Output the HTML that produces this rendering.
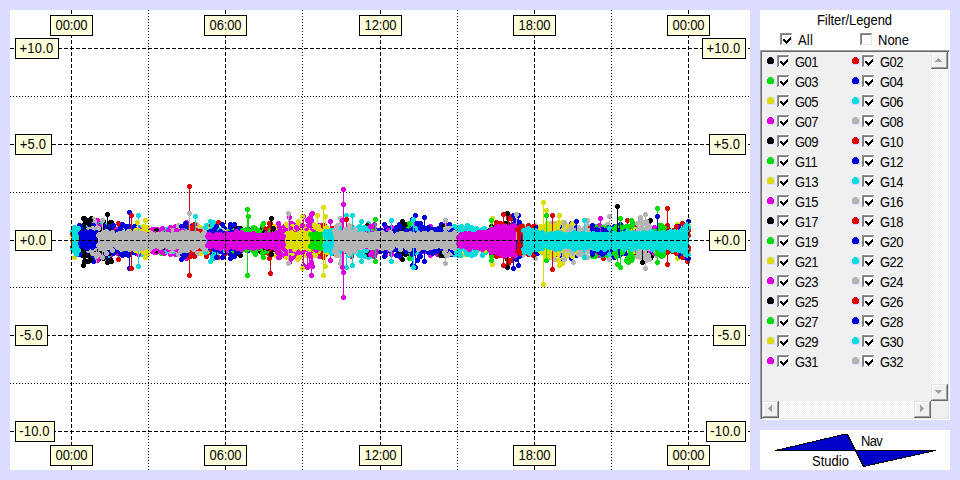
<!DOCTYPE html>
<html><head><meta charset="utf-8"><title>Residuals</title>
<style>
html,body{margin:0;padding:0;}
body{width:960px;height:480px;overflow:hidden;background:#dcdcff;position:relative;
 font-family:"Liberation Sans", sans-serif;font-size:13px;color:#000;}
#plot{position:absolute;left:10px;top:10px;width:740px;height:460px;background:#fff;}
svg{position:absolute;left:0;top:0;}
.lb{position:absolute;box-sizing:border-box;height:21px;border:1px solid #000;background:#ffffdc;
 text-align:center;line-height:19px;font-size:13px;white-space:nowrap;letter-spacing:-0.15px;}
#panel{position:absolute;left:760px;top:10px;width:190px;height:410px;background:#fff;}
#logo{position:absolute;left:760px;top:430px;width:190px;height:40px;background:#fff;}
.t{position:absolute;white-space:nowrap;font-size:13px;line-height:15px;transform:scaleY(1.07);transform-origin:0 12px;}
.lb span{display:inline-block;transform:scaleY(1.07);transform-origin:0 14px;}
.cb{position:absolute;box-sizing:border-box;width:12px;height:12px;background:#fff;
 border-top:2px solid #8a8a8a;border-left:2px solid #8a8a8a;border-right:1px solid #e3e3e3;border-bottom:1px solid #e3e3e3;}
#list{position:absolute;left:760px;top:50px;width:190px;height:370px;box-sizing:border-box;background:#f0f0f0;
 border-top:1px solid #a0a0a0;border-left:1px solid #a0a0a0;border-right:1px solid #fff;border-bottom:1px solid #fff;box-shadow:inset 1px 1px 0 #696969,inset -1px -1px 0 #e3e3e3;}
.sq{position:absolute;width:8px;height:8px;background:#dcdcff;}
.btn{position:absolute;box-sizing:border-box;width:17px;height:17px;background:#f0f0f0;
 border-top:1px solid #fff;border-left:1px solid #fff;border-right:2px solid #6e6e6e;border-bottom:2px solid #6e6e6e;}
.trk{position:absolute;background:#f0f0f0 conic-gradient(#fff 25%,#f0f0f0 0 50%,#fff 0 75%,#f0f0f0 0) 0 0/2px 2px;}
</style></head>
<body>
<div id="plot"></div>
<svg width="960" height="480" viewBox="0 0 960 480" shape-rendering="crispEdges">
<g transform="translate(0.5,0.5)" fill="none">
<path d="M72 235V241M73 233V247M74 228V257M75 238V240M76 228V251" stroke="#dcdc00"/><path d="M72 235h.01M72 241h.01M73 233h.01M73 247h.01M74 228h.01M74 257h.01M75 238h.01M75 240h.01M76 228h.01M76 251h.01" stroke="#dcdc00" stroke-width="5" stroke-linecap="round"/>
<path d="M72 233V247M73 235V243" stroke="#dc0000"/><path d="M72 233h.01M72 247h.01M73 235h.01M73 243h.01" stroke="#dc0000" stroke-width="5" stroke-linecap="round"/>
<path d="M80 233V248M81 231V247M82 227V255M83 218V265M84 224V256M85 230V250M86 226V253M87 225V253M88 220V261M89 232V248M90 235V244M91 218V260M92 233V246M93 232V247M94 236V244" stroke="#000000"/><path d="M80 233h.01M80 248h.01M81 231h.01M81 247h.01M82 227h.01M82 255h.01M83 218h.01M83 265h.01M84 224h.01M84 256h.01M85 230h.01M85 250h.01M86 226h.01M86 253h.01M87 225h.01M87 253h.01M88 220h.01M88 261h.01M89 232h.01M89 248h.01M90 235h.01M90 244h.01M91 218h.01M91 260h.01M92 233h.01M92 246h.01M93 232h.01M93 247h.01M94 236h.01M94 244h.01" stroke="#000000" stroke-width="5" stroke-linecap="round"/>
<path d="M98 230V252M99 223V258M100 235V246M101 228V255M102 232V249M103 228V248M104 230V249M105 224V255M106 224V257M107 224V256M108 234V248M109 223V255M110 222V259M111 222V261M112 234V246" stroke="#000000"/><path d="M98 230h.01M98 252h.01M99 223h.01M99 258h.01M100 235h.01M100 246h.01M101 228h.01M101 255h.01M102 232h.01M102 249h.01M103 228h.01M103 248h.01M104 230h.01M104 249h.01M105 224h.01M105 255h.01M106 224h.01M106 257h.01M107 224h.01M107 256h.01M108 234h.01M108 248h.01M109 223h.01M109 255h.01M110 222h.01M110 259h.01M111 222h.01M111 261h.01M112 234h.01M112 246h.01" stroke="#000000" stroke-width="5" stroke-linecap="round"/>
<path d="M131 227V252M132 237V245M133 231V252M134 227V252M135 238V240" stroke="#000000"/><path d="M131 227h.01M131 252h.01M132 237h.01M132 245h.01M133 231h.01M133 252h.01M134 227h.01M134 252h.01M135 238h.01M135 240h.01" stroke="#000000" stroke-width="5" stroke-linecap="round"/>
<path d="M84 231V249M85 233V245M86 226V254M87 231V249M88 235V242M89 228V253M90 225V254M91 232V243M92 235V249M93 229V247M94 230V252M95 229V252M96 223V256M97 234V245M98 235V246M99 229V251M100 230V250M101 221V256M102 236V247M103 222V255M104 224V257M105 224V256M106 228V250M107 229V252M108 226V255M109 234V247M110 232V249M111 234V246M112 234V243M113 231V247M114 231V248M115 236V240M116 233V245M117 235V244M118 233V247M119 227V254M120 235V244M121 225V252M122 231V248M123 234V244M124 234V247M125 233V245M126 232V251M127 234V245M128 233V246" stroke="#00dcdc"/><path d="M84 231h.01M84 249h.01M85 233h.01M85 245h.01M86 226h.01M86 254h.01M87 231h.01M87 249h.01M88 235h.01M88 242h.01M89 228h.01M89 253h.01M90 225h.01M90 254h.01M91 232h.01M91 243h.01M92 235h.01M92 249h.01M93 229h.01M93 247h.01M94 230h.01M94 252h.01M95 229h.01M95 252h.01M96 223h.01M96 256h.01M97 234h.01M97 245h.01M98 235h.01M98 246h.01M99 229h.01M99 251h.01M100 230h.01M100 250h.01M101 221h.01M101 256h.01M102 236h.01M102 247h.01M103 222h.01M103 255h.01M104 224h.01M104 257h.01M105 224h.01M105 256h.01M106 228h.01M106 250h.01M107 229h.01M107 252h.01M108 226h.01M108 255h.01M109 234h.01M109 247h.01M110 232h.01M110 249h.01M111 234h.01M111 246h.01M112 234h.01M112 243h.01M113 231h.01M113 247h.01M114 231h.01M114 248h.01M115 236h.01M115 240h.01M116 233h.01M116 245h.01M117 235h.01M117 244h.01M118 233h.01M118 247h.01M119 227h.01M119 254h.01M120 235h.01M120 244h.01M121 225h.01M121 252h.01M122 231h.01M122 248h.01M123 234h.01M123 244h.01M124 234h.01M124 247h.01M125 233h.01M125 245h.01M126 232h.01M126 251h.01M127 234h.01M127 245h.01M128 233h.01M128 246h.01" stroke="#00dcdc" stroke-width="5" stroke-linecap="round"/>
<path d="M82 234V244M83 232V248M84 231V249M85 234V245M86 230V252M87 230V250M88 229V249M89 234V246M90 226V254M91 237V246M92 233V246M93 231V248M94 229V249M95 234V244M96 229V252M97 220V260M98 236V243M99 226V256M100 228V255M101 234V245M102 234V245M103 234V247M104 229V249M105 228V247M106 235V244M107 236V246M108 231V248M109 234V244M110 232V249M111 229V254M112 232V248M113 226V251M114 233V249M115 234V247M116 230V251M117 229V253M118 236V243M119 233V250M120 230V251M121 232V249M122 231V250M123 234V246M124 237V241" stroke="#dc00dc"/><path d="M82 234h.01M82 244h.01M83 232h.01M83 248h.01M84 231h.01M84 249h.01M85 234h.01M85 245h.01M86 230h.01M86 252h.01M87 230h.01M87 250h.01M88 229h.01M88 249h.01M89 234h.01M89 246h.01M90 226h.01M90 254h.01M91 237h.01M91 246h.01M92 233h.01M92 246h.01M93 231h.01M93 248h.01M94 229h.01M94 249h.01M95 234h.01M95 244h.01M96 229h.01M96 252h.01M97 220h.01M97 260h.01M98 236h.01M98 243h.01M99 226h.01M99 256h.01M100 228h.01M100 255h.01M101 234h.01M101 245h.01M102 234h.01M102 245h.01M103 234h.01M103 247h.01M104 229h.01M104 249h.01M105 228h.01M105 247h.01M106 235h.01M106 244h.01M107 236h.01M107 246h.01M108 231h.01M108 248h.01M109 234h.01M109 244h.01M110 232h.01M110 249h.01M111 229h.01M111 254h.01M112 232h.01M112 248h.01M113 226h.01M113 251h.01M114 233h.01M114 249h.01M115 234h.01M115 247h.01M116 230h.01M116 251h.01M117 229h.01M117 253h.01M118 236h.01M118 243h.01M119 233h.01M119 250h.01M120 230h.01M120 251h.01M121 232h.01M121 249h.01M122 231h.01M122 250h.01M123 234h.01M123 246h.01M124 237h.01M124 241h.01" stroke="#dc00dc" stroke-width="5" stroke-linecap="round"/>
<path d="M86 237V242M87 238V240M88 235V244M89 231V253M90 226V256M91 231V247M92 228V253M93 219V258M94 221V261M95 226V253M96 232V247" stroke="#b4b4b4"/><path d="M86 237h.01M86 242h.01M87 238h.01M87 240h.01M88 235h.01M88 244h.01M89 231h.01M89 253h.01M90 226h.01M90 256h.01M91 231h.01M91 247h.01M92 228h.01M92 253h.01M93 219h.01M93 258h.01M94 221h.01M94 261h.01M95 226h.01M95 253h.01M96 232h.01M96 247h.01" stroke="#b4b4b4" stroke-width="5" stroke-linecap="round"/>
<path d="M110 237V241M111 236V244M112 232V250M113 231V247M114 232V249M115 232V249M116 231V251M117 237V242M118 223V259M119 232V245M120 237V240M121 235V245M122 235V247" stroke="#dc0000"/><path d="M110 237h.01M110 241h.01M111 236h.01M111 244h.01M112 232h.01M112 250h.01M113 231h.01M113 247h.01M114 232h.01M114 249h.01M115 232h.01M115 249h.01M116 231h.01M116 251h.01M117 237h.01M117 242h.01M118 223h.01M118 259h.01M119 232h.01M119 245h.01M120 237h.01M120 240h.01M121 235h.01M121 245h.01M122 235h.01M122 247h.01" stroke="#dc0000" stroke-width="5" stroke-linecap="round"/>
<path d="M78 236V242M79 225V254M80 232V247M81 228V251M82 235V245M83 234V246M84 236V245M85 229V251M86 231V249M87 234V247M88 231V247M89 229V252M90 226V256M91 233V246M92 225V257M93 225V261M94 234V246M95 232V249M96 231V246M97 231V250M98 234V246M99 234V244M100 229V251M101 229V251M102 232V245M103 233V250M104 226V254M105 227V257M106 229V250M107 231V250M108 230V250M109 232V244M110 229V250M111 233V244M112 236V244M113 225V253M114 237V244M115 235V246M116 232V246M117 231V250M118 233V250M119 235V248M120 235V250M121 236V240M122 231V252M123 232V248M124 232V247M125 226V254M126 227V250M127 232V251M128 228V252M129 231V249M130 233V248M131 236V243M132 236V244M133 231V249M134 226V252M135 235V244M136 226V253" stroke="#0000dc"/><path d="M78 236h.01M78 242h.01M79 225h.01M79 254h.01M80 232h.01M80 247h.01M81 228h.01M81 251h.01M82 235h.01M82 245h.01M83 234h.01M83 246h.01M84 236h.01M84 245h.01M85 229h.01M85 251h.01M86 231h.01M86 249h.01M87 234h.01M87 247h.01M88 231h.01M88 247h.01M89 229h.01M89 252h.01M90 226h.01M90 256h.01M91 233h.01M91 246h.01M92 225h.01M92 257h.01M93 225h.01M93 261h.01M94 234h.01M94 246h.01M95 232h.01M95 249h.01M96 231h.01M96 246h.01M97 231h.01M97 250h.01M98 234h.01M98 246h.01M99 234h.01M99 244h.01M100 229h.01M100 251h.01M101 229h.01M101 251h.01M102 232h.01M102 245h.01M103 233h.01M103 250h.01M104 226h.01M104 254h.01M105 227h.01M105 257h.01M106 229h.01M106 250h.01M107 231h.01M107 250h.01M108 230h.01M108 250h.01M109 232h.01M109 244h.01M110 229h.01M110 250h.01M111 233h.01M111 244h.01M112 236h.01M112 244h.01M113 225h.01M113 253h.01M114 237h.01M114 244h.01M115 235h.01M115 246h.01M116 232h.01M116 246h.01M117 231h.01M117 250h.01M118 233h.01M118 250h.01M119 235h.01M119 248h.01M120 235h.01M120 250h.01M121 236h.01M121 240h.01M122 231h.01M122 252h.01M123 232h.01M123 248h.01M124 232h.01M124 247h.01M125 226h.01M125 254h.01M126 227h.01M126 250h.01M127 232h.01M127 251h.01M128 228h.01M128 252h.01M129 231h.01M129 249h.01M130 233h.01M130 248h.01M131 236h.01M131 243h.01M132 236h.01M132 244h.01M133 231h.01M133 249h.01M134 226h.01M134 252h.01M135 235h.01M135 244h.01M136 226h.01M136 253h.01" stroke="#0000dc" stroke-width="5" stroke-linecap="round"/>
<path d="M136 234V244M137 236V243M138 227V250M139 228V248M140 236V247M141 227V254M142 231V248M143 234V248" stroke="#00dcdc"/><path d="M136 234h.01M136 244h.01M137 236h.01M137 243h.01M138 227h.01M138 250h.01M139 228h.01M139 248h.01M140 236h.01M140 247h.01M141 227h.01M141 254h.01M142 231h.01M142 248h.01M143 234h.01M143 248h.01" stroke="#00dcdc" stroke-width="5" stroke-linecap="round"/>
<path d="M136 234V244M137 234V251M138 228V254M139 234V245M140 229V250M141 231V250M142 232V249" stroke="#dc00dc"/><path d="M136 234h.01M136 244h.01M137 234h.01M137 251h.01M138 228h.01M138 254h.01M139 234h.01M139 245h.01M140 229h.01M140 250h.01M141 231h.01M141 250h.01M142 232h.01M142 249h.01" stroke="#dc00dc" stroke-width="5" stroke-linecap="round"/>
<path d="M133 234V247M134 231V248M135 238V243M136 236V245M137 233V246M138 230V251M139 236V246M140 234V249M141 231V247M142 234V246M143 226V252M144 233V249M145 232V248M146 230V251M147 227V254M148 236V249M149 235V246M150 233V245M151 236V246M152 235V247" stroke="#dcdc00"/><path d="M133 234h.01M133 247h.01M134 231h.01M134 248h.01M135 238h.01M135 243h.01M136 236h.01M136 245h.01M137 233h.01M137 246h.01M138 230h.01M138 251h.01M139 236h.01M139 246h.01M140 234h.01M140 249h.01M141 231h.01M141 247h.01M142 234h.01M142 246h.01M143 226h.01M143 252h.01M144 233h.01M144 249h.01M145 232h.01M145 248h.01M146 230h.01M146 251h.01M147 227h.01M147 254h.01M148 236h.01M148 249h.01M149 235h.01M149 246h.01M150 233h.01M150 245h.01M151 236h.01M151 246h.01M152 235h.01M152 247h.01" stroke="#dcdc00" stroke-width="5" stroke-linecap="round"/>
<path d="M150 238V240M151 234V248M152 235V248M153 234V245M154 236V246M155 232V248M156 229V252M157 236V244M158 236V242M159 234V247M160 231V250M161 229V253M162 232V245M163 233V244M164 235V246M165 235V246M166 233V242M167 235V247M168 229V250M169 233V243M170 234V248" stroke="#00dc00"/><path d="M150 238h.01M150 240h.01M151 234h.01M151 248h.01M152 235h.01M152 248h.01M153 234h.01M153 245h.01M154 236h.01M154 246h.01M155 232h.01M155 248h.01M156 229h.01M156 252h.01M157 236h.01M157 244h.01M158 236h.01M158 242h.01M159 234h.01M159 247h.01M160 231h.01M160 250h.01M161 229h.01M161 253h.01M162 232h.01M162 245h.01M163 233h.01M163 244h.01M164 235h.01M164 246h.01M165 235h.01M165 246h.01M166 233h.01M166 242h.01M167 235h.01M167 247h.01M168 229h.01M168 250h.01M169 233h.01M169 243h.01M170 234h.01M170 248h.01" stroke="#00dc00" stroke-width="5" stroke-linecap="round"/>
<path d="M148 235V242M149 233V245M150 230V249M151 231V247M152 229V251M153 236V241M154 229V252M155 230V247M156 230V252M157 229V250M158 233V248M159 232V246M160 231V247M161 233V247M162 234V249M163 234V245M164 229V253M165 235V245M166 229V249M167 233V251M168 233V245M169 228V251M170 227V254M171 234V247M172 237V241M173 235V245M174 230V253M175 226V254M176 234V247M177 233V245M178 232V247M179 230V251M180 235V244M181 233V249M182 234V248M183 235V247M184 238V240" stroke="#dc00dc"/><path d="M148 235h.01M148 242h.01M149 233h.01M149 245h.01M150 230h.01M150 249h.01M151 231h.01M151 247h.01M152 229h.01M152 251h.01M153 236h.01M153 241h.01M154 229h.01M154 252h.01M155 230h.01M155 247h.01M156 230h.01M156 252h.01M157 229h.01M157 250h.01M158 233h.01M158 248h.01M159 232h.01M159 246h.01M160 231h.01M160 247h.01M161 233h.01M161 247h.01M162 234h.01M162 249h.01M163 234h.01M163 245h.01M164 229h.01M164 253h.01M165 235h.01M165 245h.01M166 229h.01M166 249h.01M167 233h.01M167 251h.01M168 233h.01M168 245h.01M169 228h.01M169 251h.01M170 227h.01M170 254h.01M171 234h.01M171 247h.01M172 237h.01M172 241h.01M173 235h.01M173 245h.01M174 230h.01M174 253h.01M175 226h.01M175 254h.01M176 234h.01M176 247h.01M177 233h.01M177 245h.01M178 232h.01M178 247h.01M179 230h.01M179 251h.01M180 235h.01M180 244h.01M181 233h.01M181 249h.01M182 234h.01M182 248h.01M183 235h.01M183 247h.01M184 238h.01M184 240h.01" stroke="#dc00dc" stroke-width="5" stroke-linecap="round"/>
<path d="M156 230V250M157 233V243M158 233V247M159 233V246M160 233V247M161 237V244M162 234V247M163 232V250M164 233V251" stroke="#000000"/><path d="M156 230h.01M156 250h.01M157 233h.01M157 243h.01M158 233h.01M158 247h.01M159 233h.01M159 246h.01M160 233h.01M160 247h.01M161 237h.01M161 244h.01M162 234h.01M162 247h.01M163 232h.01M163 250h.01M164 233h.01M164 251h.01" stroke="#000000" stroke-width="5" stroke-linecap="round"/>
<path d="M166 229V251M167 236V247M168 234V248M169 231V246M170 233V245M171 230V251M172 234V244M173 230V251M174 236V245" stroke="#00dcdc"/><path d="M166 229h.01M166 251h.01M167 236h.01M167 247h.01M168 234h.01M168 248h.01M169 231h.01M169 246h.01M170 233h.01M170 245h.01M171 230h.01M171 251h.01M172 234h.01M172 244h.01M173 230h.01M173 251h.01M174 236h.01M174 245h.01" stroke="#00dcdc" stroke-width="5" stroke-linecap="round"/>
<path d="M168 237V244M169 231V250M170 230V251M171 235V242M172 233V248M173 231V247M174 230V249M175 233V249M176 234V246M177 229V251M178 225V254M179 235V246M180 232V245M181 231V248M182 230V253M183 231V249M184 231V246" stroke="#b4b4b4"/><path d="M168 237h.01M168 244h.01M169 231h.01M169 250h.01M170 230h.01M170 251h.01M171 235h.01M171 242h.01M172 233h.01M172 248h.01M173 231h.01M173 247h.01M174 230h.01M174 249h.01M175 233h.01M175 249h.01M176 234h.01M176 246h.01M177 229h.01M177 251h.01M178 225h.01M178 254h.01M179 235h.01M179 246h.01M180 232h.01M180 245h.01M181 231h.01M181 248h.01M182 230h.01M182 253h.01M183 231h.01M183 249h.01M184 231h.01M184 246h.01" stroke="#b4b4b4" stroke-width="5" stroke-linecap="round"/>
<path d="M182 233V248M183 230V248M184 234V244M185 226V253M186 222V258M187 233V251M188 236V242" stroke="#dc00dc"/><path d="M182 233h.01M182 248h.01M183 230h.01M183 248h.01M184 234h.01M184 244h.01M185 226h.01M185 253h.01M186 222h.01M186 258h.01M187 233h.01M187 251h.01M188 236h.01M188 242h.01" stroke="#dc00dc" stroke-width="5" stroke-linecap="round"/>
<path d="M184 231V251M185 228V251M186 231V246M187 225V256M188 235V243M189 234V248M190 234V246M191 234V243M192 225V255M193 229V254M194 229V251M195 227V251M196 234V246M197 232V247M198 236V243M199 237V244M200 233V247M201 233V247M202 229V250M203 231V248M204 234V245M205 231V247M206 225V256M207 237V240M208 233V248M209 226V252M210 234V245M211 230V249M212 228V253M213 231V248M214 231V250M215 228V253M216 232V246M217 230V249M218 222V257M219 236V245M220 233V246M221 230V250M222 233V246M223 234V247M224 229V254M225 230V253M226 234V244M227 235V242M228 233V246M229 237V243M230 234V245M231 233V246M232 233V248" stroke="#dc0000"/><path d="M184 231h.01M184 251h.01M185 228h.01M185 251h.01M186 231h.01M186 246h.01M187 225h.01M187 256h.01M188 235h.01M188 243h.01M189 234h.01M189 248h.01M190 234h.01M190 246h.01M191 234h.01M191 243h.01M192 225h.01M192 255h.01M193 229h.01M193 254h.01M194 229h.01M194 251h.01M195 227h.01M195 251h.01M196 234h.01M196 246h.01M197 232h.01M197 247h.01M198 236h.01M198 243h.01M199 237h.01M199 244h.01M200 233h.01M200 247h.01M201 233h.01M201 247h.01M202 229h.01M202 250h.01M203 231h.01M203 248h.01M204 234h.01M204 245h.01M205 231h.01M205 247h.01M206 225h.01M206 256h.01M207 237h.01M207 240h.01M208 233h.01M208 248h.01M209 226h.01M209 252h.01M210 234h.01M210 245h.01M211 230h.01M211 249h.01M212 228h.01M212 253h.01M213 231h.01M213 248h.01M214 231h.01M214 250h.01M215 228h.01M215 253h.01M216 232h.01M216 246h.01M217 230h.01M217 249h.01M218 222h.01M218 257h.01M219 236h.01M219 245h.01M220 233h.01M220 246h.01M221 230h.01M221 250h.01M222 233h.01M222 246h.01M223 234h.01M223 247h.01M224 229h.01M224 254h.01M225 230h.01M225 253h.01M226 234h.01M226 244h.01M227 235h.01M227 242h.01M228 233h.01M228 246h.01M229 237h.01M229 243h.01M230 234h.01M230 245h.01M231 233h.01M231 246h.01M232 233h.01M232 248h.01" stroke="#dc0000" stroke-width="5" stroke-linecap="round"/>
<path d="M190 231V248M191 235V244M192 235V248M193 233V248M194 233V253M195 227V251M196 236V247M197 225V253M198 235V245M199 233V248M200 227V253M201 231V247M202 231V250M203 232V245M204 236V245M205 236V248M206 231V250M207 231V251M208 229V250M209 233V248M210 233V243M211 233V247M212 229V250M213 235V248M214 234V245M215 234V246M216 233V248M217 233V248M218 234V247M219 234V249M220 234V242M221 231V248M222 236V245" stroke="#dcdc00"/><path d="M190 231h.01M190 248h.01M191 235h.01M191 244h.01M192 235h.01M192 248h.01M193 233h.01M193 248h.01M194 233h.01M194 253h.01M195 227h.01M195 251h.01M196 236h.01M196 247h.01M197 225h.01M197 253h.01M198 235h.01M198 245h.01M199 233h.01M199 248h.01M200 227h.01M200 253h.01M201 231h.01M201 247h.01M202 231h.01M202 250h.01M203 232h.01M203 245h.01M204 236h.01M204 245h.01M205 236h.01M205 248h.01M206 231h.01M206 250h.01M207 231h.01M207 251h.01M208 229h.01M208 250h.01M209 233h.01M209 248h.01M210 233h.01M210 243h.01M211 233h.01M211 247h.01M212 229h.01M212 250h.01M213 235h.01M213 248h.01M214 234h.01M214 245h.01M215 234h.01M215 246h.01M216 233h.01M216 248h.01M217 233h.01M217 248h.01M218 234h.01M218 247h.01M219 234h.01M219 249h.01M220 234h.01M220 242h.01M221 231h.01M221 248h.01M222 236h.01M222 245h.01" stroke="#dcdc00" stroke-width="5" stroke-linecap="round"/>
<path d="M180 231V251M181 226V259M182 226V254M183 229V250M184 227V256M185 223V255M186 234V244M187 228V250M188 230V252M189 230V250M190 234V247M191 226V254M192 228V250" stroke="#0000dc"/><path d="M180 231h.01M180 251h.01M181 226h.01M181 259h.01M182 226h.01M182 254h.01M183 229h.01M183 250h.01M184 227h.01M184 256h.01M185 223h.01M185 255h.01M186 234h.01M186 244h.01M187 228h.01M187 250h.01M188 230h.01M188 252h.01M189 230h.01M189 250h.01M190 234h.01M190 247h.01M191 226h.01M191 254h.01M192 228h.01M192 250h.01" stroke="#0000dc" stroke-width="5" stroke-linecap="round"/>
<path d="M183 230V247M184 231V250M185 231V247M186 233V249M187 233V244M188 236V243" stroke="#00dcdc"/><path d="M183 230h.01M183 247h.01M184 231h.01M184 250h.01M185 231h.01M185 247h.01M186 233h.01M186 249h.01M187 233h.01M187 244h.01M188 236h.01M188 243h.01" stroke="#00dcdc" stroke-width="5" stroke-linecap="round"/>
<path d="M192 237V244M193 233V246M194 235V247M195 233V247M196 224V254M197 231V251M198 237V242M199 234V243M200 229V249M201 232V245M202 232V247M203 233V247M204 231V248M205 229V250M206 232V250M207 233V244M208 236V245" stroke="#b4b4b4"/><path d="M192 237h.01M192 244h.01M193 233h.01M193 246h.01M194 235h.01M194 247h.01M195 233h.01M195 247h.01M196 224h.01M196 254h.01M197 231h.01M197 251h.01M198 237h.01M198 242h.01M199 234h.01M199 243h.01M200 229h.01M200 249h.01M201 232h.01M201 245h.01M202 232h.01M202 247h.01M203 233h.01M203 247h.01M204 231h.01M204 248h.01M205 229h.01M205 250h.01M206 232h.01M206 250h.01M207 233h.01M207 244h.01M208 236h.01M208 245h.01" stroke="#b4b4b4" stroke-width="5" stroke-linecap="round"/>
<path d="M204 235V248M205 227V252M206 233V246M207 236V245M208 233V246M209 233V248M210 221V261M211 234V247M212 233V249M213 222V258M214 234V246M215 231V247M216 230V253M217 234V245M218 238V245M219 232V248M220 233V248M221 233V244M222 229V250M223 235V243M224 236V244M225 237V244M226 230V250" stroke="#00dcdc"/><path d="M204 235h.01M204 248h.01M205 227h.01M205 252h.01M206 233h.01M206 246h.01M207 236h.01M207 245h.01M208 233h.01M208 246h.01M209 233h.01M209 248h.01M210 221h.01M210 261h.01M211 234h.01M211 247h.01M212 233h.01M212 249h.01M213 222h.01M213 258h.01M214 234h.01M214 246h.01M215 231h.01M215 247h.01M216 230h.01M216 253h.01M217 234h.01M217 245h.01M218 238h.01M218 245h.01M219 232h.01M219 248h.01M220 233h.01M220 248h.01M221 233h.01M221 244h.01M222 229h.01M222 250h.01M223 235h.01M223 243h.01M224 236h.01M224 244h.01M225 237h.01M225 244h.01M226 230h.01M226 250h.01" stroke="#00dcdc" stroke-width="5" stroke-linecap="round"/>
<path d="M206 236V247M208 234V247M210 232V248M212 231V253M214 230V253M216 228V251M218 231V251M220 232V248M222 224V257M224 228V252M226 231V250M228 232V248M230 224V258M232 226V253M234 225V254M236 229V249M238 231V249M240 232V251M242 234V243M244 232V243M246 233V246M248 229V250M250 233V246M252 233V246M254 233V249M256 234V247" stroke="#0000dc"/><path d="M206 236h.01M206 247h.01M208 234h.01M208 247h.01M210 232h.01M210 248h.01M212 231h.01M212 253h.01M214 230h.01M214 253h.01M216 228h.01M216 251h.01M218 231h.01M218 251h.01M220 232h.01M220 248h.01M222 224h.01M222 257h.01M224 228h.01M224 252h.01M226 231h.01M226 250h.01M228 232h.01M228 248h.01M230 224h.01M230 258h.01M232 226h.01M232 253h.01M234 225h.01M234 254h.01M236 229h.01M236 249h.01M238 231h.01M238 249h.01M240 232h.01M240 251h.01M242 234h.01M242 243h.01M244 232h.01M244 243h.01M246 233h.01M246 246h.01M248 229h.01M248 250h.01M250 233h.01M250 246h.01M252 233h.01M252 246h.01M254 233h.01M254 249h.01M256 234h.01M256 247h.01" stroke="#0000dc" stroke-width="5" stroke-linecap="round"/>
<path d="M222 230V250M223 237V244M224 235V242M225 231V247M226 231V246M227 235V244M228 234V246M229 232V245M230 231V252" stroke="#b4b4b4"/><path d="M222 230h.01M222 250h.01M223 237h.01M223 244h.01M224 235h.01M224 242h.01M225 231h.01M225 247h.01M226 231h.01M226 246h.01M227 235h.01M227 244h.01M228 234h.01M228 246h.01M229 232h.01M229 245h.01M230 231h.01M230 252h.01" stroke="#b4b4b4" stroke-width="5" stroke-linecap="round"/>
<path d="M234 234V246M235 227V249M236 235V246M237 228V253M238 236V244M239 232V252M240 228V255M241 233V249M242 235V247" stroke="#000000"/><path d="M234 234h.01M234 246h.01M235 227h.01M235 249h.01M236 235h.01M236 246h.01M237 228h.01M237 253h.01M238 236h.01M238 244h.01M239 232h.01M239 252h.01M240 228h.01M240 255h.01M241 233h.01M241 249h.01M242 235h.01M242 247h.01" stroke="#000000" stroke-width="5" stroke-linecap="round"/>
<path d="M228 233V249M229 231V251M230 235V245M231 234V247M232 230V251M233 231V250M234 234V243M235 233V246M236 234V245M237 232V246M238 233V246M239 231V249M240 232V245M241 232V248M242 232V249M243 236V240M244 238V240M245 232V249M246 233V249M247 231V249M248 230V248M249 236V243M250 235V246M251 232V249M252 231V246M253 227V251M254 235V243M255 228V254M256 229V251M257 233V242M258 230V247M259 235V246M260 235V245M261 233V245M262 234V245M263 223V257M264 233V249M265 229V251M266 232V249M267 238V244M268 230V248M269 229V253M270 231V248M271 233V249M272 230V251M273 234V246M274 235V245" stroke="#00dc00"/><path d="M228 233h.01M228 249h.01M229 231h.01M229 251h.01M230 235h.01M230 245h.01M231 234h.01M231 247h.01M232 230h.01M232 251h.01M233 231h.01M233 250h.01M234 234h.01M234 243h.01M235 233h.01M235 246h.01M236 234h.01M236 245h.01M237 232h.01M237 246h.01M238 233h.01M238 246h.01M239 231h.01M239 249h.01M240 232h.01M240 245h.01M241 232h.01M241 248h.01M242 232h.01M242 249h.01M243 236h.01M243 240h.01M244 238h.01M244 240h.01M245 232h.01M245 249h.01M246 233h.01M246 249h.01M247 231h.01M247 249h.01M248 230h.01M248 248h.01M249 236h.01M249 243h.01M250 235h.01M250 246h.01M251 232h.01M251 249h.01M252 231h.01M252 246h.01M253 227h.01M253 251h.01M254 235h.01M254 243h.01M255 228h.01M255 254h.01M256 229h.01M256 251h.01M257 233h.01M257 242h.01M258 230h.01M258 247h.01M259 235h.01M259 246h.01M260 235h.01M260 245h.01M261 233h.01M261 245h.01M262 234h.01M262 245h.01M263 223h.01M263 257h.01M264 233h.01M264 249h.01M265 229h.01M265 251h.01M266 232h.01M266 249h.01M267 238h.01M267 244h.01M268 230h.01M268 248h.01M269 229h.01M269 253h.01M270 231h.01M270 248h.01M271 233h.01M271 249h.01M272 230h.01M272 251h.01M273 234h.01M273 246h.01M274 235h.01M274 245h.01" stroke="#00dc00" stroke-width="5" stroke-linecap="round"/>
<path d="M258 233V249M260 233V251M262 227V251M264 235V244M266 232V250M268 232V248M270 233V246M272 229V251M274 234V246" stroke="#000000"/><path d="M258 233h.01M258 249h.01M260 233h.01M260 251h.01M262 227h.01M262 251h.01M264 235h.01M264 244h.01M266 232h.01M266 250h.01M268 232h.01M268 248h.01M270 233h.01M270 246h.01M272 229h.01M272 251h.01M274 234h.01M274 246h.01" stroke="#000000" stroke-width="5" stroke-linecap="round"/>
<path d="M264 228V252M265 234V247M266 235V247M267 230V248M268 228V253M269 223V258M270 236V245M271 236V240M272 228V253" stroke="#dc0000"/><path d="M264 228h.01M264 252h.01M265 234h.01M265 247h.01M266 235h.01M266 247h.01M267 230h.01M267 248h.01M268 228h.01M268 253h.01M269 223h.01M269 258h.01M270 236h.01M270 245h.01M271 236h.01M271 240h.01M272 228h.01M272 253h.01" stroke="#dc0000" stroke-width="5" stroke-linecap="round"/>
<path d="M268 234V247M269 235V244M270 236V242M271 234V247M272 236V242M273 236V242M274 226V252M275 226V255M276 236V241M277 230V252M278 232V250M279 231V249M280 232V246M281 234V249M282 235V247M283 235V247M284 235V248" stroke="#dcdc00"/><path d="M268 234h.01M268 247h.01M269 235h.01M269 244h.01M270 236h.01M270 242h.01M271 234h.01M271 247h.01M272 236h.01M272 242h.01M273 236h.01M273 242h.01M274 226h.01M274 252h.01M275 226h.01M275 255h.01M276 236h.01M276 241h.01M277 230h.01M277 252h.01M278 232h.01M278 250h.01M279 231h.01M279 249h.01M280 232h.01M280 246h.01M281 234h.01M281 249h.01M282 235h.01M282 247h.01M283 235h.01M283 247h.01M284 235h.01M284 248h.01" stroke="#dcdc00" stroke-width="5" stroke-linecap="round"/>
<path d="M286 237V245M287 235V247M288 232V251M289 231V249M290 227V252M291 231V247M292 234V245M293 234V244M294 235V246M295 230V251M296 234V245" stroke="#b4b4b4"/><path d="M286 237h.01M286 245h.01M287 235h.01M287 247h.01M288 232h.01M288 251h.01M289 231h.01M289 249h.01M290 227h.01M290 252h.01M291 231h.01M291 247h.01M292 234h.01M292 245h.01M293 234h.01M293 244h.01M294 235h.01M294 246h.01M295 230h.01M295 251h.01M296 234h.01M296 245h.01" stroke="#b4b4b4" stroke-width="5" stroke-linecap="round"/>
<path d="M276 232V249M277 232V252M278 223V257M279 227V257M280 231V253M281 235V245M282 233V247M283 233V245M284 226V255M285 231V250M286 228V254M287 230V248M288 229V250M289 217V262M290 228V255M291 223V258M292 230V252M293 224V256M294 234V246M295 230V248M296 226V249M297 230V247M298 227V254M299 227V247M300 228V252M301 229V252M302 227V252M303 216V265M304 229V247M305 230V248M306 229V250M307 233V250M308 231V248M309 218V265M310 228V256M311 220V262M312 213V266M313 229V249M314 229V249M315 230V253M316 233V252M317 229V247M318 232V249M319 225V256M320 225V254M321 232V248M322 228V253M323 228V256M324 230V252M325 234V246M326 235V245M327 233V250M328 233V244M329 236V246M330 221V260M331 230V250M332 233V247M333 233V244M334 236V245M335 231V251M336 229V252M337 233V246M338 233V247M339 234V246M340 231V251" stroke="#dc00dc"/><path d="M276 232h.01M276 249h.01M277 232h.01M277 252h.01M278 223h.01M278 257h.01M279 227h.01M279 257h.01M280 231h.01M280 253h.01M281 235h.01M281 245h.01M282 233h.01M282 247h.01M283 233h.01M283 245h.01M284 226h.01M284 255h.01M285 231h.01M285 250h.01M286 228h.01M286 254h.01M287 230h.01M287 248h.01M288 229h.01M288 250h.01M289 217h.01M289 262h.01M290 228h.01M290 255h.01M291 223h.01M291 258h.01M292 230h.01M292 252h.01M293 224h.01M293 256h.01M294 234h.01M294 246h.01M295 230h.01M295 248h.01M296 226h.01M296 249h.01M297 230h.01M297 247h.01M298 227h.01M298 254h.01M299 227h.01M299 247h.01M300 228h.01M300 252h.01M301 229h.01M301 252h.01M302 227h.01M302 252h.01M303 216h.01M303 265h.01M304 229h.01M304 247h.01M305 230h.01M305 248h.01M306 229h.01M306 250h.01M307 233h.01M307 250h.01M308 231h.01M308 248h.01M309 218h.01M309 265h.01M310 228h.01M310 256h.01M311 220h.01M311 262h.01M312 213h.01M312 266h.01M313 229h.01M313 249h.01M314 229h.01M314 249h.01M315 230h.01M315 253h.01M316 233h.01M316 252h.01M317 229h.01M317 247h.01M318 232h.01M318 249h.01M319 225h.01M319 256h.01M320 225h.01M320 254h.01M321 232h.01M321 248h.01M322 228h.01M322 253h.01M323 228h.01M323 256h.01M324 230h.01M324 252h.01M325 234h.01M325 246h.01M326 235h.01M326 245h.01M327 233h.01M327 250h.01M328 233h.01M328 244h.01M329 236h.01M329 246h.01M330 221h.01M330 260h.01M331 230h.01M331 250h.01M332 233h.01M332 247h.01M333 233h.01M333 244h.01M334 236h.01M334 245h.01M335 231h.01M335 251h.01M336 229h.01M336 252h.01M337 233h.01M337 246h.01M338 233h.01M338 247h.01M339 234h.01M339 246h.01M340 231h.01M340 251h.01" stroke="#dc00dc" stroke-width="5" stroke-linecap="round"/>
<path d="M296 235V244M297 236V246M298 232V250M299 233V244M300 237V240M301 235V246M302 237V241M303 238V241M304 230V250M305 237V247M306 233V248M307 232V249M308 237V244M309 235V246M310 231V249M311 231V248M312 227V253M313 236V245M314 235V242M315 232V249M316 234V250M317 234V245M318 231V247M319 230V251M320 228V253M321 230V250M322 238V241M323 225V257M324 235V246M325 226V254M326 232V248M327 236V244M328 234V244M329 234V244M330 235V245M331 237V242M332 228V253M333 232V249M334 231V249M335 232V250M336 228V255M337 228V253M338 227V250M339 235V243M340 235V242M341 231V250M342 232V245M343 232V248M344 230V249M345 236V244M346 230V250M347 230V252M348 235V244M349 234V248M350 233V250M351 226V256M352 235V248M353 234V247M354 238V247M355 237V243M356 232V248" stroke="#dc0000"/><path d="M296 235h.01M296 244h.01M297 236h.01M297 246h.01M298 232h.01M298 250h.01M299 233h.01M299 244h.01M300 237h.01M300 240h.01M301 235h.01M301 246h.01M302 237h.01M302 241h.01M303 238h.01M303 241h.01M304 230h.01M304 250h.01M305 237h.01M305 247h.01M306 233h.01M306 248h.01M307 232h.01M307 249h.01M308 237h.01M308 244h.01M309 235h.01M309 246h.01M310 231h.01M310 249h.01M311 231h.01M311 248h.01M312 227h.01M312 253h.01M313 236h.01M313 245h.01M314 235h.01M314 242h.01M315 232h.01M315 249h.01M316 234h.01M316 250h.01M317 234h.01M317 245h.01M318 231h.01M318 247h.01M319 230h.01M319 251h.01M320 228h.01M320 253h.01M321 230h.01M321 250h.01M322 238h.01M322 241h.01M323 225h.01M323 257h.01M324 235h.01M324 246h.01M325 226h.01M325 254h.01M326 232h.01M326 248h.01M327 236h.01M327 244h.01M328 234h.01M328 244h.01M329 234h.01M329 244h.01M330 235h.01M330 245h.01M331 237h.01M331 242h.01M332 228h.01M332 253h.01M333 232h.01M333 249h.01M334 231h.01M334 249h.01M335 232h.01M335 250h.01M336 228h.01M336 255h.01M337 228h.01M337 253h.01M338 227h.01M338 250h.01M339 235h.01M339 243h.01M340 235h.01M340 242h.01M341 231h.01M341 250h.01M342 232h.01M342 245h.01M343 232h.01M343 248h.01M344 230h.01M344 249h.01M345 236h.01M345 244h.01M346 230h.01M346 250h.01M347 230h.01M347 252h.01M348 235h.01M348 244h.01M349 234h.01M349 248h.01M350 233h.01M350 250h.01M351 226h.01M351 256h.01M352 235h.01M352 248h.01M353 234h.01M353 247h.01M354 238h.01M354 247h.01M355 237h.01M355 243h.01M356 232h.01M356 248h.01" stroke="#dc0000" stroke-width="5" stroke-linecap="round"/>
<path d="M286 224V257M287 237V244M288 233V247M289 228V252M290 234V247M291 229V250M292 226V253M293 231V249M294 232V245M295 234V246M296 233V247M297 225V259M298 221V257M299 224V257M300 235V246M301 230V253M302 216V268M303 228V252M304 232V247M305 226V253M306 227V255M307 235V245M308 233V250M309 229V247M310 225V256M311 232V249M312 231V249M313 224V255M314 229V254M315 226V255M316 228V251M317 233V247M318 226V251M319 236V241M320 230V248M321 233V245M322 237V244M323 233V246M324 233V243M325 216V266M326 227V252M327 229V252M328 231V251M329 230V248M330 235V247M331 232V246M332 236V243" stroke="#dcdc00"/><path d="M286 224h.01M286 257h.01M287 237h.01M287 244h.01M288 233h.01M288 247h.01M289 228h.01M289 252h.01M290 234h.01M290 247h.01M291 229h.01M291 250h.01M292 226h.01M292 253h.01M293 231h.01M293 249h.01M294 232h.01M294 245h.01M295 234h.01M295 246h.01M296 233h.01M296 247h.01M297 225h.01M297 259h.01M298 221h.01M298 257h.01M299 224h.01M299 257h.01M300 235h.01M300 246h.01M301 230h.01M301 253h.01M302 216h.01M302 268h.01M303 228h.01M303 252h.01M304 232h.01M304 247h.01M305 226h.01M305 253h.01M306 227h.01M306 255h.01M307 235h.01M307 245h.01M308 233h.01M308 250h.01M309 229h.01M309 247h.01M310 225h.01M310 256h.01M311 232h.01M311 249h.01M312 231h.01M312 249h.01M313 224h.01M313 255h.01M314 229h.01M314 254h.01M315 226h.01M315 255h.01M316 228h.01M316 251h.01M317 233h.01M317 247h.01M318 226h.01M318 251h.01M319 236h.01M319 241h.01M320 230h.01M320 248h.01M321 233h.01M321 245h.01M322 237h.01M322 244h.01M323 233h.01M323 246h.01M324 233h.01M324 243h.01M325 216h.01M325 266h.01M326 227h.01M326 252h.01M327 229h.01M327 252h.01M328 231h.01M328 251h.01M329 230h.01M329 248h.01M330 235h.01M330 247h.01M331 232h.01M331 246h.01M332 236h.01M332 243h.01" stroke="#dcdc00" stroke-width="5" stroke-linecap="round"/>
<path d="M334 233V245M335 238V240M336 226V255M337 225V253M338 226V251M339 226V255M340 218V263M341 222V260M342 231V250M343 232V248M344 232V247M345 237V243M346 233V245" stroke="#b4b4b4"/><path d="M334 233h.01M334 245h.01M335 238h.01M335 240h.01M336 226h.01M336 255h.01M337 225h.01M337 253h.01M338 226h.01M338 251h.01M339 226h.01M339 255h.01M340 218h.01M340 263h.01M341 222h.01M341 260h.01M342 231h.01M342 250h.01M343 232h.01M343 248h.01M344 232h.01M344 247h.01M345 237h.01M345 243h.01M346 233h.01M346 245h.01" stroke="#b4b4b4" stroke-width="5" stroke-linecap="round"/>
<path d="M344 237V240M345 234V248M346 231V248M347 233V250M348 232V248M349 230V248M350 234V248" stroke="#000000"/><path d="M344 237h.01M344 240h.01M345 234h.01M345 248h.01M346 231h.01M346 248h.01M347 233h.01M347 250h.01M348 232h.01M348 248h.01M349 230h.01M349 248h.01M350 234h.01M350 248h.01" stroke="#000000" stroke-width="5" stroke-linecap="round"/>
<path d="M340 235V244M341 228V251M342 233V246M343 229V251M344 233V248M345 234V247M346 215V267M347 233V244M348 231V251M349 228V255M350 228V254M351 232V246M352 215V265M353 228V252M354 232V244M355 231V250M356 230V248M357 230V251M358 227V254M359 226V255M360 235V243M361 221V261M362 234V246M363 232V247M364 230V250M365 234V247M366 235V243M367 236V246M368 223V257M369 232V247M370 231V252M371 228V256M372 236V244M373 226V254M374 234V247M375 234V243M376 236V248M377 236V241M378 234V249" stroke="#00dcdc"/><path d="M340 235h.01M340 244h.01M341 228h.01M341 251h.01M342 233h.01M342 246h.01M343 229h.01M343 251h.01M344 233h.01M344 248h.01M345 234h.01M345 247h.01M346 215h.01M346 267h.01M347 233h.01M347 244h.01M348 231h.01M348 251h.01M349 228h.01M349 255h.01M350 228h.01M350 254h.01M351 232h.01M351 246h.01M352 215h.01M352 265h.01M353 228h.01M353 252h.01M354 232h.01M354 244h.01M355 231h.01M355 250h.01M356 230h.01M356 248h.01M357 230h.01M357 251h.01M358 227h.01M358 254h.01M359 226h.01M359 255h.01M360 235h.01M360 243h.01M361 221h.01M361 261h.01M362 234h.01M362 246h.01M363 232h.01M363 247h.01M364 230h.01M364 250h.01M365 234h.01M365 247h.01M366 235h.01M366 243h.01M367 236h.01M367 246h.01M368 223h.01M368 257h.01M369 232h.01M369 247h.01M370 231h.01M370 252h.01M371 228h.01M371 256h.01M372 236h.01M372 244h.01M373 226h.01M373 254h.01M374 234h.01M374 247h.01M375 234h.01M375 243h.01M376 236h.01M376 248h.01M377 236h.01M377 241h.01M378 234h.01M378 249h.01" stroke="#00dcdc" stroke-width="5" stroke-linecap="round"/>
<path d="M348 232V248M349 227V253M350 232V247M351 233V250M352 237V242M353 232V247M354 231V249" stroke="#b4b4b4"/><path d="M348 232h.01M348 248h.01M349 227h.01M349 253h.01M350 232h.01M350 247h.01M351 233h.01M351 250h.01M352 237h.01M352 242h.01M353 232h.01M353 247h.01M354 231h.01M354 249h.01" stroke="#b4b4b4" stroke-width="5" stroke-linecap="round"/>
<path d="M362 233V247M363 234V245M364 233V250M365 234V244M366 230V253M367 225V254M368 229V251M369 229V251M370 231V250M371 234V245M372 230V246M373 236V245M374 237V243" stroke="#000000"/><path d="M362 233h.01M362 247h.01M363 234h.01M363 245h.01M364 233h.01M364 250h.01M365 234h.01M365 244h.01M366 230h.01M366 253h.01M367 225h.01M367 254h.01M368 229h.01M368 251h.01M369 229h.01M369 251h.01M370 231h.01M370 250h.01M371 234h.01M371 245h.01M372 230h.01M372 246h.01M373 236h.01M373 245h.01M374 237h.01M374 243h.01" stroke="#000000" stroke-width="5" stroke-linecap="round"/>
<path d="M364 236V244M365 233V245M366 231V250M367 238V240M368 229V248M369 235V246M370 234V247M371 231V248M372 229V252M373 235V245M374 228V248M375 236V242M376 230V252M377 235V247M378 231V250M379 232V247M380 235V246M381 239V240M382 233V248M383 237V246M384 233V243M385 226V255M386 233V246M387 231V249M388 235V247M389 231V248M390 232V251M391 227V254M392 230V250M393 238V240M394 236V242M395 233V246M396 232V247M397 231V250M398 231V247M399 238V241M400 227V257M401 237V243M402 233V246M403 228V251M404 236V248M405 236V247M406 229V248M407 229V249M408 235V245M409 236V242M410 235V245M411 231V246M412 229V253M413 224V253M414 234V246M415 231V248M416 234V245M417 235V244M418 233V246M419 237V244M420 233V246M421 228V251M422 235V247M423 232V244M424 229V251M425 234V249M426 232V248M427 229V247M428 234V246M429 236V244M430 226V255M431 232V254M432 234V248M433 233V248M434 233V248M435 238V244M436 230V246M437 229V254M438 232V249M439 233V248M440 231V247M441 233V249M442 235V244M443 236V246M444 233V246M445 225V254M446 226V253M447 236V247M448 229V249M449 237V244M450 233V245M451 234V246M452 236V243M453 234V246M454 236V245M455 235V244M456 234V248" stroke="#dc00dc"/><path d="M364 236h.01M364 244h.01M365 233h.01M365 245h.01M366 231h.01M366 250h.01M367 238h.01M367 240h.01M368 229h.01M368 248h.01M369 235h.01M369 246h.01M370 234h.01M370 247h.01M371 231h.01M371 248h.01M372 229h.01M372 252h.01M373 235h.01M373 245h.01M374 228h.01M374 248h.01M375 236h.01M375 242h.01M376 230h.01M376 252h.01M377 235h.01M377 247h.01M378 231h.01M378 250h.01M379 232h.01M379 247h.01M380 235h.01M380 246h.01M381 239h.01M381 240h.01M382 233h.01M382 248h.01M383 237h.01M383 246h.01M384 233h.01M384 243h.01M385 226h.01M385 255h.01M386 233h.01M386 246h.01M387 231h.01M387 249h.01M388 235h.01M388 247h.01M389 231h.01M389 248h.01M390 232h.01M390 251h.01M391 227h.01M391 254h.01M392 230h.01M392 250h.01M393 238h.01M393 240h.01M394 236h.01M394 242h.01M395 233h.01M395 246h.01M396 232h.01M396 247h.01M397 231h.01M397 250h.01M398 231h.01M398 247h.01M399 238h.01M399 241h.01M400 227h.01M400 257h.01M401 237h.01M401 243h.01M402 233h.01M402 246h.01M403 228h.01M403 251h.01M404 236h.01M404 248h.01M405 236h.01M405 247h.01M406 229h.01M406 248h.01M407 229h.01M407 249h.01M408 235h.01M408 245h.01M409 236h.01M409 242h.01M410 235h.01M410 245h.01M411 231h.01M411 246h.01M412 229h.01M412 253h.01M413 224h.01M413 253h.01M414 234h.01M414 246h.01M415 231h.01M415 248h.01M416 234h.01M416 245h.01M417 235h.01M417 244h.01M418 233h.01M418 246h.01M419 237h.01M419 244h.01M420 233h.01M420 246h.01M421 228h.01M421 251h.01M422 235h.01M422 247h.01M423 232h.01M423 244h.01M424 229h.01M424 251h.01M425 234h.01M425 249h.01M426 232h.01M426 248h.01M427 229h.01M427 247h.01M428 234h.01M428 246h.01M429 236h.01M429 244h.01M430 226h.01M430 255h.01M431 232h.01M431 254h.01M432 234h.01M432 248h.01M433 233h.01M433 248h.01M434 233h.01M434 248h.01M435 238h.01M435 244h.01M436 230h.01M436 246h.01M437 229h.01M437 254h.01M438 232h.01M438 249h.01M439 233h.01M439 248h.01M440 231h.01M440 247h.01M441 233h.01M441 249h.01M442 235h.01M442 244h.01M443 236h.01M443 246h.01M444 233h.01M444 246h.01M445 225h.01M445 254h.01M446 226h.01M446 253h.01M447 236h.01M447 247h.01M448 229h.01M448 249h.01M449 237h.01M449 244h.01M450 233h.01M450 245h.01M451 234h.01M451 246h.01M452 236h.01M452 243h.01M453 234h.01M453 246h.01M454 236h.01M454 245h.01M455 235h.01M455 244h.01M456 234h.01M456 248h.01" stroke="#dc00dc" stroke-width="5" stroke-linecap="round"/>
<path d="M368 239V240M369 234V246M370 234V247M371 236V246M372 231V248M373 234V248M374 231V251M375 232V248M376 237V242M377 231V248M378 234V242" stroke="#00dc00"/><path d="M368 239h.01M368 240h.01M369 234h.01M369 246h.01M370 234h.01M370 247h.01M371 236h.01M371 246h.01M372 231h.01M372 248h.01M373 234h.01M373 248h.01M374 231h.01M374 251h.01M375 232h.01M375 248h.01M376 237h.01M376 242h.01M377 231h.01M377 248h.01M378 234h.01M378 242h.01" stroke="#00dc00" stroke-width="5" stroke-linecap="round"/>
<path d="M378 232V245M379 230V247M380 230V251M381 230V249M382 232V246M383 231V250M384 224V256M385 230V252M386 233V246M387 231V247M388 228V249M389 231V250M390 237V241M391 236V243M392 237V243M393 231V249M394 234V246M395 233V249M396 235V244M397 234V249M398 232V247M399 224V254M400 235V243M401 230V250M402 232V248M403 230V251M404 227V252M405 233V246M406 228V252M407 231V247M408 236V248M409 232V251M410 226V255M411 232V248M412 219V265M413 235V243M414 229V250M415 215V267M416 234V247M417 223V260M418 226V253M419 229V249M420 223V256M421 227V251M422 230V248M423 227V250M424 217V261M425 234V249M426 234V248M427 231V249M428 227V252M429 229V248M430 232V248M431 233V248M432 229V253M433 231V247M434 237V245M435 231V244M436 236V244M437 235V249M438 228V248M439 233V249M440 227V253M441 224V254M442 226V253M443 233V248M444 227V253M445 232V251M446 231V253M447 233V250M448 232V247M449 224V254M450 234V246M451 230V254M452 231V250M453 234V242M454 236V242M455 227V254M456 234V248" stroke="#0000dc"/><path d="M378 232h.01M378 245h.01M379 230h.01M379 247h.01M380 230h.01M380 251h.01M381 230h.01M381 249h.01M382 232h.01M382 246h.01M383 231h.01M383 250h.01M384 224h.01M384 256h.01M385 230h.01M385 252h.01M386 233h.01M386 246h.01M387 231h.01M387 247h.01M388 228h.01M388 249h.01M389 231h.01M389 250h.01M390 237h.01M390 241h.01M391 236h.01M391 243h.01M392 237h.01M392 243h.01M393 231h.01M393 249h.01M394 234h.01M394 246h.01M395 233h.01M395 249h.01M396 235h.01M396 244h.01M397 234h.01M397 249h.01M398 232h.01M398 247h.01M399 224h.01M399 254h.01M400 235h.01M400 243h.01M401 230h.01M401 250h.01M402 232h.01M402 248h.01M403 230h.01M403 251h.01M404 227h.01M404 252h.01M405 233h.01M405 246h.01M406 228h.01M406 252h.01M407 231h.01M407 247h.01M408 236h.01M408 248h.01M409 232h.01M409 251h.01M410 226h.01M410 255h.01M411 232h.01M411 248h.01M412 219h.01M412 265h.01M413 235h.01M413 243h.01M414 229h.01M414 250h.01M415 215h.01M415 267h.01M416 234h.01M416 247h.01M417 223h.01M417 260h.01M418 226h.01M418 253h.01M419 229h.01M419 249h.01M420 223h.01M420 256h.01M421 227h.01M421 251h.01M422 230h.01M422 248h.01M423 227h.01M423 250h.01M424 217h.01M424 261h.01M425 234h.01M425 249h.01M426 234h.01M426 248h.01M427 231h.01M427 249h.01M428 227h.01M428 252h.01M429 229h.01M429 248h.01M430 232h.01M430 248h.01M431 233h.01M431 248h.01M432 229h.01M432 253h.01M433 231h.01M433 247h.01M434 237h.01M434 245h.01M435 231h.01M435 244h.01M436 236h.01M436 244h.01M437 235h.01M437 249h.01M438 228h.01M438 248h.01M439 233h.01M439 249h.01M440 227h.01M440 253h.01M441 224h.01M441 254h.01M442 226h.01M442 253h.01M443 233h.01M443 248h.01M444 227h.01M444 253h.01M445 232h.01M445 251h.01M446 231h.01M446 253h.01M447 233h.01M447 250h.01M448 232h.01M448 247h.01M449 224h.01M449 254h.01M450 234h.01M450 246h.01M451 230h.01M451 254h.01M452 231h.01M452 250h.01M453 234h.01M453 242h.01M454 236h.01M454 242h.01M455 227h.01M455 254h.01M456 234h.01M456 248h.01" stroke="#0000dc" stroke-width="5" stroke-linecap="round"/>
<path d="M398 235V243M399 230V253M400 231V250M401 235V242M402 230V253M403 231V251M404 230V251M405 224V254M406 230V248M407 235V243M408 229V252M409 235V247M410 237V242M411 234V251M412 236V245" stroke="#000000"/><path d="M398 235h.01M398 243h.01M399 230h.01M399 253h.01M400 231h.01M400 250h.01M401 235h.01M401 242h.01M402 230h.01M402 253h.01M403 231h.01M403 251h.01M404 230h.01M404 251h.01M405 224h.01M405 254h.01M406 230h.01M406 248h.01M407 235h.01M407 243h.01M408 229h.01M408 252h.01M409 235h.01M409 247h.01M410 237h.01M410 242h.01M411 234h.01M411 251h.01M412 236h.01M412 245h.01" stroke="#000000" stroke-width="5" stroke-linecap="round"/>
<path d="M410 233V249M411 223V258M412 232V247M413 233V246M414 232V250M415 228V251M416 231V252" stroke="#00dcdc"/><path d="M410 233h.01M410 249h.01M411 223h.01M411 258h.01M412 232h.01M412 247h.01M413 233h.01M413 246h.01M414 232h.01M414 250h.01M415 228h.01M415 251h.01M416 231h.01M416 252h.01" stroke="#00dcdc" stroke-width="5" stroke-linecap="round"/>
<path d="M404 235V243M405 235V244M406 236V242M407 231V251M408 228V249M409 223V258M410 235V248M411 234V244M412 231V247" stroke="#00dc00"/><path d="M404 235h.01M404 243h.01M405 235h.01M405 244h.01M406 236h.01M406 242h.01M407 231h.01M407 251h.01M408 228h.01M408 249h.01M409 223h.01M409 258h.01M410 235h.01M410 248h.01M411 234h.01M411 244h.01M412 231h.01M412 247h.01" stroke="#00dc00" stroke-width="5" stroke-linecap="round"/>
<path d="M440 229V255M441 230V248M442 227V253M443 226V255M444 234V246M445 229V248M446 237V240M447 230V247M448 234V243M449 231V247M450 230V250" stroke="#000000"/><path d="M440 229h.01M440 255h.01M441 230h.01M441 248h.01M442 227h.01M442 253h.01M443 226h.01M443 255h.01M444 234h.01M444 246h.01M445 229h.01M445 248h.01M446 237h.01M446 240h.01M447 230h.01M447 247h.01M448 234h.01M448 243h.01M449 231h.01M449 247h.01M450 230h.01M450 250h.01" stroke="#000000" stroke-width="5" stroke-linecap="round"/>
<path d="M444 229V252M445 233V249M446 229V255M447 228V255M448 233V244M449 231V247M450 228V253M451 230V250M452 229V251M453 231V251M454 235V246M455 231V251M456 235V247" stroke="#b4b4b4"/><path d="M444 229h.01M444 252h.01M445 233h.01M445 249h.01M446 229h.01M446 255h.01M447 228h.01M447 255h.01M448 233h.01M448 244h.01M449 231h.01M449 247h.01M450 228h.01M450 253h.01M451 230h.01M451 250h.01M452 229h.01M452 251h.01M453 231h.01M453 251h.01M454 235h.01M454 246h.01M455 231h.01M455 251h.01M456 235h.01M456 247h.01" stroke="#b4b4b4" stroke-width="5" stroke-linecap="round"/>
<path d="M452 236V244M453 231V245M454 226V254M455 230V249M456 234V247M457 233V246M458 227V255M459 227V255M460 229V249M461 226V255M462 232V247M463 233V248M464 233V247M465 235V245M466 232V253M467 225V254M468 232V248M469 231V246M470 232V249M471 227V255M472 228V249M473 232V250M474 229V254M475 229V253M476 234V245M477 231V247M478 234V244M479 235V248M480 235V243M481 232V244M482 229V255M483 230V253M484 228V248M485 231V252M486 234V245M487 233V246M488 232V248" stroke="#00dcdc"/><path d="M452 236h.01M452 244h.01M453 231h.01M453 245h.01M454 226h.01M454 254h.01M455 230h.01M455 249h.01M456 234h.01M456 247h.01M457 233h.01M457 246h.01M458 227h.01M458 255h.01M459 227h.01M459 255h.01M460 229h.01M460 249h.01M461 226h.01M461 255h.01M462 232h.01M462 247h.01M463 233h.01M463 248h.01M464 233h.01M464 247h.01M465 235h.01M465 245h.01M466 232h.01M466 253h.01M467 225h.01M467 254h.01M468 232h.01M468 248h.01M469 231h.01M469 246h.01M470 232h.01M470 249h.01M471 227h.01M471 255h.01M472 228h.01M472 249h.01M473 232h.01M473 250h.01M474 229h.01M474 254h.01M475 229h.01M475 253h.01M476 234h.01M476 245h.01M477 231h.01M477 247h.01M478 234h.01M478 244h.01M479 235h.01M479 248h.01M480 235h.01M480 243h.01M481 232h.01M481 244h.01M482 229h.01M482 255h.01M483 230h.01M483 253h.01M484 228h.01M484 248h.01M485 231h.01M485 252h.01M486 234h.01M486 245h.01M487 233h.01M487 246h.01M488 232h.01M488 248h.01" stroke="#00dcdc" stroke-width="5" stroke-linecap="round"/>
<path d="M464 229V254M465 237V243M466 232V247M467 236V247M468 232V248M469 234V246M470 232V247M471 237V241M472 235V247M473 232V249M474 235V243M475 234V246M476 232V246M477 230V248M478 233V248M479 230V248M480 231V249M481 231V249M482 233V245M483 232V248M484 233V247M485 232V250M486 234V245M487 233V248M488 234V248M489 234V244M490 230V246M491 233V244M492 218V264M493 236V244M494 236V241M495 233V248M496 233V247" stroke="#dcdc00"/><path d="M464 229h.01M464 254h.01M465 237h.01M465 243h.01M466 232h.01M466 247h.01M467 236h.01M467 247h.01M468 232h.01M468 248h.01M469 234h.01M469 246h.01M470 232h.01M470 247h.01M471 237h.01M471 241h.01M472 235h.01M472 247h.01M473 232h.01M473 249h.01M474 235h.01M474 243h.01M475 234h.01M475 246h.01M476 232h.01M476 246h.01M477 230h.01M477 248h.01M478 233h.01M478 248h.01M479 230h.01M479 248h.01M480 231h.01M480 249h.01M481 231h.01M481 249h.01M482 233h.01M482 245h.01M483 232h.01M483 248h.01M484 233h.01M484 247h.01M485 232h.01M485 250h.01M486 234h.01M486 245h.01M487 233h.01M487 248h.01M488 234h.01M488 248h.01M489 234h.01M489 244h.01M490 230h.01M490 246h.01M491 233h.01M491 244h.01M492 218h.01M492 264h.01M493 236h.01M493 244h.01M494 236h.01M494 241h.01M495 233h.01M495 248h.01M496 233h.01M496 247h.01" stroke="#dcdc00" stroke-width="5" stroke-linecap="round"/>
<path d="M488 231V248M489 232V250M490 229V246M491 226V255M492 229V251M493 236V243" stroke="#000000"/><path d="M488 231h.01M488 248h.01M489 232h.01M489 250h.01M490 229h.01M490 246h.01M491 226h.01M491 255h.01M492 229h.01M492 251h.01M493 236h.01M493 243h.01" stroke="#000000" stroke-width="5" stroke-linecap="round"/>
<path d="M489 232V250M490 230V251M491 228V256M492 235V246M493 233V248M494 234V247" stroke="#00dc00"/><path d="M489 232h.01M489 250h.01M490 230h.01M490 251h.01M491 228h.01M491 256h.01M492 235h.01M492 246h.01M493 233h.01M493 248h.01M494 234h.01M494 247h.01" stroke="#00dc00" stroke-width="5" stroke-linecap="round"/>
<path d="M512 231V247M513 228V249M514 228V253M515 234V247M516 235V247M517 230V251M518 232V248M519 229V251M520 229V253M521 233V248M522 225V255M523 230V250M524 233V247M525 231V249M526 228V253M527 233V246M528 228V252M529 232V245M530 231V249M531 233V245M532 234V248M533 228V252M534 236V242M535 225V258M536 236V244M537 232V248M538 231V247" stroke="#b4b4b4"/><path d="M512 231h.01M512 247h.01M513 228h.01M513 249h.01M514 228h.01M514 253h.01M515 234h.01M515 247h.01M516 235h.01M516 247h.01M517 230h.01M517 251h.01M518 232h.01M518 248h.01M519 229h.01M519 251h.01M520 229h.01M520 253h.01M521 233h.01M521 248h.01M522 225h.01M522 255h.01M523 230h.01M523 250h.01M524 233h.01M524 247h.01M525 231h.01M525 249h.01M526 228h.01M526 253h.01M527 233h.01M527 246h.01M528 228h.01M528 252h.01M529 232h.01M529 245h.01M530 231h.01M530 249h.01M531 233h.01M531 245h.01M532 234h.01M532 248h.01M533 228h.01M533 252h.01M534 236h.01M534 242h.01M535 225h.01M535 258h.01M536 236h.01M536 244h.01M537 232h.01M537 248h.01M538 231h.01M538 247h.01" stroke="#b4b4b4" stroke-width="5" stroke-linecap="round"/>
<path d="M504 223V256M505 230V250M506 230V250M507 223V259M508 230V253M509 234V242M510 226V253" stroke="#000000"/><path d="M504 223h.01M504 256h.01M505 230h.01M505 250h.01M506 230h.01M506 250h.01M507 223h.01M507 259h.01M508 230h.01M508 253h.01M509 234h.01M509 242h.01M510 226h.01M510 253h.01" stroke="#000000" stroke-width="5" stroke-linecap="round"/>
<path d="M508 235V244M509 236V246M510 226V254M511 231V249M512 224V253M513 232V248M514 225V253M515 220V255M516 223V259M517 230V251M518 230V252M519 222V256M520 233V250M521 229V252M522 230V246M523 230V249M524 234V242" stroke="#0000dc"/><path d="M508 235h.01M508 244h.01M509 236h.01M509 246h.01M510 226h.01M510 254h.01M511 231h.01M511 249h.01M512 224h.01M512 253h.01M513 232h.01M513 248h.01M514 225h.01M514 253h.01M515 220h.01M515 255h.01M516 223h.01M516 259h.01M517 230h.01M517 251h.01M518 230h.01M518 252h.01M519 222h.01M519 256h.01M520 233h.01M520 250h.01M521 229h.01M521 252h.01M522 230h.01M522 246h.01M523 230h.01M523 249h.01M524 234h.01M524 242h.01" stroke="#0000dc" stroke-width="5" stroke-linecap="round"/>
<path d="M492 234V246M496 222V256M500 223V255M504 225V255M508 215V263M512 232V251" stroke="#dc0000"/><path d="M492 234h.01M492 246h.01M496 222h.01M496 256h.01M500 223h.01M500 255h.01M504 225h.01M504 255h.01M508 215h.01M508 263h.01M512 232h.01M512 251h.01" stroke="#dc0000" stroke-width="5" stroke-linecap="round"/>
<path d="M522 226V251M523 233V245M524 236V245M525 232V250M526 235V245M527 229V251M528 225V254M529 233V243M530 234V248M531 231V249M532 234V249M533 226V255M534 226V252M535 233V246M536 233V247M537 233V245M538 233V249M539 235V245M540 235V244M541 231V248M542 236V244M543 235V245M544 235V243M545 234V243M546 233V245M547 230V250M548 232V247M549 238V244M550 236V245M551 234V246M552 233V249M553 231V246M554 231V248M555 228V254M556 236V246M557 233V250M558 238V240M559 234V246M560 235V244" stroke="#dc0000"/><path d="M522 226h.01M522 251h.01M523 233h.01M523 245h.01M524 236h.01M524 245h.01M525 232h.01M525 250h.01M526 235h.01M526 245h.01M527 229h.01M527 251h.01M528 225h.01M528 254h.01M529 233h.01M529 243h.01M530 234h.01M530 248h.01M531 231h.01M531 249h.01M532 234h.01M532 249h.01M533 226h.01M533 255h.01M534 226h.01M534 252h.01M535 233h.01M535 246h.01M536 233h.01M536 247h.01M537 233h.01M537 245h.01M538 233h.01M538 249h.01M539 235h.01M539 245h.01M540 235h.01M540 244h.01M541 231h.01M541 248h.01M542 236h.01M542 244h.01M543 235h.01M543 245h.01M544 235h.01M544 243h.01M545 234h.01M545 243h.01M546 233h.01M546 245h.01M547 230h.01M547 250h.01M548 232h.01M548 247h.01M549 238h.01M549 244h.01M550 236h.01M550 245h.01M551 234h.01M551 246h.01M552 233h.01M552 249h.01M553 231h.01M553 246h.01M554 231h.01M554 248h.01M555 228h.01M555 254h.01M556 236h.01M556 246h.01M557 233h.01M557 250h.01M558 238h.01M558 240h.01M559 234h.01M559 246h.01M560 235h.01M560 244h.01" stroke="#dc0000" stroke-width="5" stroke-linecap="round"/>
<path d="M536 233V245M537 227V253M538 232V245M539 235V243M540 236V245M541 234V244M542 232V245M543 235V245M544 235V242M545 236V240M546 237V245M547 233V251M548 232V247M549 233V246M550 235V246M551 235V248M552 232V248M553 233V248M554 230V253M555 233V246M556 235V242M557 232V249M558 233V248M559 229V250M560 230V255M561 234V245M562 225V261M563 234V250M564 235V245M565 229V248M566 227V253M567 234V248M568 236V243M569 229V253M570 233V247M571 223V258M572 234V246M573 233V247M574 233V251M575 233V247M576 227V255M577 232V247M578 232V248M579 231V248M580 234V246" stroke="#0000dc"/><path d="M536 233h.01M536 245h.01M537 227h.01M537 253h.01M538 232h.01M538 245h.01M539 235h.01M539 243h.01M540 236h.01M540 245h.01M541 234h.01M541 244h.01M542 232h.01M542 245h.01M543 235h.01M543 245h.01M544 235h.01M544 242h.01M545 236h.01M545 240h.01M546 237h.01M546 245h.01M547 233h.01M547 251h.01M548 232h.01M548 247h.01M549 233h.01M549 246h.01M550 235h.01M550 246h.01M551 235h.01M551 248h.01M552 232h.01M552 248h.01M553 233h.01M553 248h.01M554 230h.01M554 253h.01M555 233h.01M555 246h.01M556 235h.01M556 242h.01M557 232h.01M557 249h.01M558 233h.01M558 248h.01M559 229h.01M559 250h.01M560 230h.01M560 255h.01M561 234h.01M561 245h.01M562 225h.01M562 261h.01M563 234h.01M563 250h.01M564 235h.01M564 245h.01M565 229h.01M565 248h.01M566 227h.01M566 253h.01M567 234h.01M567 248h.01M568 236h.01M568 243h.01M569 229h.01M569 253h.01M570 233h.01M570 247h.01M571 223h.01M571 258h.01M572 234h.01M572 246h.01M573 233h.01M573 247h.01M574 233h.01M574 251h.01M575 233h.01M575 247h.01M576 227h.01M576 255h.01M577 232h.01M577 247h.01M578 232h.01M578 248h.01M579 231h.01M579 248h.01M580 234h.01M580 246h.01" stroke="#0000dc" stroke-width="5" stroke-linecap="round"/>
<path d="M538 234V244M539 231V249M540 228V251M541 235V248M542 233V249M543 230V249M544 233V249M545 233V248M546 232V247M547 223V256M548 235V245M549 236V243M550 233V248M551 223V257M552 232V248M553 237V240M554 223V259M555 230V252M556 231V247M557 230V253M558 225V254M559 233V249M560 235V245M561 231V247M562 235V244M563 222V258M564 233V247M565 234V244M566 228V252M567 228V255M568 231V245M569 226V253M570 232V245M571 234V245M572 233V248M573 223V262M574 230V252M575 233V247M576 231V250M577 232V251M578 227V251M579 230V250M580 230V254M581 234V247M582 232V248M583 236V244M584 232V251M585 228V256M586 234V247M587 225V257M588 233V248M589 233V248M590 237V244" stroke="#b4b4b4"/><path d="M538 234h.01M538 244h.01M539 231h.01M539 249h.01M540 228h.01M540 251h.01M541 235h.01M541 248h.01M542 233h.01M542 249h.01M543 230h.01M543 249h.01M544 233h.01M544 249h.01M545 233h.01M545 248h.01M546 232h.01M546 247h.01M547 223h.01M547 256h.01M548 235h.01M548 245h.01M549 236h.01M549 243h.01M550 233h.01M550 248h.01M551 223h.01M551 257h.01M552 232h.01M552 248h.01M553 237h.01M553 240h.01M554 223h.01M554 259h.01M555 230h.01M555 252h.01M556 231h.01M556 247h.01M557 230h.01M557 253h.01M558 225h.01M558 254h.01M559 233h.01M559 249h.01M560 235h.01M560 245h.01M561 231h.01M561 247h.01M562 235h.01M562 244h.01M563 222h.01M563 258h.01M564 233h.01M564 247h.01M565 234h.01M565 244h.01M566 228h.01M566 252h.01M567 228h.01M567 255h.01M568 231h.01M568 245h.01M569 226h.01M569 253h.01M570 232h.01M570 245h.01M571 234h.01M571 245h.01M572 233h.01M572 248h.01M573 223h.01M573 262h.01M574 230h.01M574 252h.01M575 233h.01M575 247h.01M576 231h.01M576 250h.01M577 232h.01M577 251h.01M578 227h.01M578 251h.01M579 230h.01M579 250h.01M580 230h.01M580 254h.01M581 234h.01M581 247h.01M582 232h.01M582 248h.01M583 236h.01M583 244h.01M584 232h.01M584 251h.01M585 228h.01M585 256h.01M586 234h.01M586 247h.01M587 225h.01M587 257h.01M588 233h.01M588 248h.01M589 233h.01M589 248h.01M590 237h.01M590 244h.01" stroke="#b4b4b4" stroke-width="5" stroke-linecap="round"/>
<path d="M544 234V243M545 228V255M546 228V253M547 230V251M548 230V249M549 233V251M550 229V251" stroke="#00dc00"/><path d="M544 234h.01M544 243h.01M545 228h.01M545 255h.01M546 228h.01M546 253h.01M547 230h.01M547 251h.01M548 230h.01M548 249h.01M549 233h.01M549 251h.01M550 229h.01M550 251h.01" stroke="#00dc00" stroke-width="5" stroke-linecap="round"/>
<path d="M540 226V251M541 230V249M542 230V252M543 231V248M544 229V252M545 235V245M546 225V257M547 223V258M548 234V245M549 232V249M550 226V256M551 228V252M552 226V254M553 227V254M554 225V254M555 234V249M556 227V253M557 232V247M558 222V260M559 215V265M560 232V250M561 231V246M562 233V246M563 229V249M564 231V249M565 232V244M566 225V256M567 229V253M568 231V244M569 233V246M570 236V241M571 233V248M572 223V256M573 234V246M574 237V241M575 234V247M576 236V242M577 232V248M578 235V244M579 237V244M580 235V246" stroke="#dcdc00"/><path d="M540 226h.01M540 251h.01M541 230h.01M541 249h.01M542 230h.01M542 252h.01M543 231h.01M543 248h.01M544 229h.01M544 252h.01M545 235h.01M545 245h.01M546 225h.01M546 257h.01M547 223h.01M547 258h.01M548 234h.01M548 245h.01M549 232h.01M549 249h.01M550 226h.01M550 256h.01M551 228h.01M551 252h.01M552 226h.01M552 254h.01M553 227h.01M553 254h.01M554 225h.01M554 254h.01M555 234h.01M555 249h.01M556 227h.01M556 253h.01M557 232h.01M557 247h.01M558 222h.01M558 260h.01M559 215h.01M559 265h.01M560 232h.01M560 250h.01M561 231h.01M561 246h.01M562 233h.01M562 246h.01M563 229h.01M563 249h.01M564 231h.01M564 249h.01M565 232h.01M565 244h.01M566 225h.01M566 256h.01M567 229h.01M567 253h.01M568 231h.01M568 244h.01M569 233h.01M569 246h.01M570 236h.01M570 241h.01M571 233h.01M571 248h.01M572 223h.01M572 256h.01M573 234h.01M573 246h.01M574 237h.01M574 241h.01M575 234h.01M575 247h.01M576 236h.01M576 242h.01M577 232h.01M577 248h.01M578 235h.01M578 244h.01M579 237h.01M579 244h.01M580 235h.01M580 246h.01" stroke="#dcdc00" stroke-width="5" stroke-linecap="round"/>
<path d="M582 234V244M583 235V244M584 232V249M585 236V246M586 234V241" stroke="#00dcdc"/><path d="M582 234h.01M582 244h.01M583 235h.01M583 244h.01M584 232h.01M584 249h.01M585 236h.01M585 246h.01M586 234h.01M586 241h.01" stroke="#00dcdc" stroke-width="5" stroke-linecap="round"/>
<path d="M586 237V248M587 237V244M588 231V248M589 228V248M590 233V250M591 234V246M592 229V249M593 231V250M594 229V252M595 233V246M596 235V247M597 233V242M598 232V249M599 234V245M600 234V248M601 228V253M602 236V242M603 227V258M604 235V247M605 237V248M606 232V247M607 235V246M608 233V248M609 230V251M610 235V244M611 229V248M612 232V249M613 231V249M614 237V245M615 236V246M616 232V248M617 229V250M618 231V248M619 233V248M620 233V248M621 231V246M622 228V251M623 231V251M624 232V250M625 229V248M626 226V252M627 220V258M628 232V243M629 232V248M630 234V246M631 230V249M632 225V257M633 233V247M634 231V247M635 233V248M636 227V254M637 234V246M638 230V250M639 233V248M640 232V246M641 234V247M642 234V246" stroke="#dc0000"/><path d="M586 237h.01M586 248h.01M587 237h.01M587 244h.01M588 231h.01M588 248h.01M589 228h.01M589 248h.01M590 233h.01M590 250h.01M591 234h.01M591 246h.01M592 229h.01M592 249h.01M593 231h.01M593 250h.01M594 229h.01M594 252h.01M595 233h.01M595 246h.01M596 235h.01M596 247h.01M597 233h.01M597 242h.01M598 232h.01M598 249h.01M599 234h.01M599 245h.01M600 234h.01M600 248h.01M601 228h.01M601 253h.01M602 236h.01M602 242h.01M603 227h.01M603 258h.01M604 235h.01M604 247h.01M605 237h.01M605 248h.01M606 232h.01M606 247h.01M607 235h.01M607 246h.01M608 233h.01M608 248h.01M609 230h.01M609 251h.01M610 235h.01M610 244h.01M611 229h.01M611 248h.01M612 232h.01M612 249h.01M613 231h.01M613 249h.01M614 237h.01M614 245h.01M615 236h.01M615 246h.01M616 232h.01M616 248h.01M617 229h.01M617 250h.01M618 231h.01M618 248h.01M619 233h.01M619 248h.01M620 233h.01M620 248h.01M621 231h.01M621 246h.01M622 228h.01M622 251h.01M623 231h.01M623 251h.01M624 232h.01M624 250h.01M625 229h.01M625 248h.01M626 226h.01M626 252h.01M627 220h.01M627 258h.01M628 232h.01M628 243h.01M629 232h.01M629 248h.01M630 234h.01M630 246h.01M631 230h.01M631 249h.01M632 225h.01M632 257h.01M633 233h.01M633 247h.01M634 231h.01M634 247h.01M635 233h.01M635 248h.01M636 227h.01M636 254h.01M637 234h.01M637 246h.01M638 230h.01M638 250h.01M639 233h.01M639 248h.01M640 232h.01M640 246h.01M641 234h.01M641 247h.01M642 234h.01M642 246h.01" stroke="#dc0000" stroke-width="5" stroke-linecap="round"/>
<path d="M598 232V245M599 225V255M600 230V248M601 229V249M602 231V250" stroke="#dc00dc"/><path d="M598 232h.01M598 245h.01M599 225h.01M599 255h.01M600 230h.01M600 248h.01M601 229h.01M601 249h.01M602 231h.01M602 250h.01" stroke="#dc00dc" stroke-width="5" stroke-linecap="round"/>
<path d="M604 226V254M605 233V247M606 228V248M607 224V256M608 226V254M609 229V253M610 229V255M611 228V251M612 233V250M613 232V250M614 231V247" stroke="#b4b4b4"/><path d="M604 226h.01M604 254h.01M605 233h.01M605 247h.01M606 228h.01M606 248h.01M607 224h.01M607 256h.01M608 226h.01M608 254h.01M609 229h.01M609 253h.01M610 229h.01M610 255h.01M611 228h.01M611 251h.01M612 233h.01M612 250h.01M613 232h.01M613 250h.01M614 231h.01M614 247h.01" stroke="#b4b4b4" stroke-width="5" stroke-linecap="round"/>
<path d="M590 234V245M591 235V245M592 225V256M593 233V245M594 232V247M595 226V256M596 232V248M597 233V244M598 235V247M599 229V252M600 234V246M601 229V254M602 227V255M603 235V244M604 232V248M605 233V246M606 231V247M607 227V255M608 233V249M609 233V246M610 233V249M611 233V245M612 231V246M613 230V253M614 233V247M615 228V253M616 235V246M617 233V246M618 230V252M619 233V249M620 224V252M621 234V249M622 226V253M623 238V246M624 236V243M625 229V250M626 226V260M627 233V243M628 226V255M629 231V248M630 233V251M631 220V260M632 222V258M633 231V249M634 237V241M635 232V251M636 231V247" stroke="#00dc00"/><path d="M590 234h.01M590 245h.01M591 235h.01M591 245h.01M592 225h.01M592 256h.01M593 233h.01M593 245h.01M594 232h.01M594 247h.01M595 226h.01M595 256h.01M596 232h.01M596 248h.01M597 233h.01M597 244h.01M598 235h.01M598 247h.01M599 229h.01M599 252h.01M600 234h.01M600 246h.01M601 229h.01M601 254h.01M602 227h.01M602 255h.01M603 235h.01M603 244h.01M604 232h.01M604 248h.01M605 233h.01M605 246h.01M606 231h.01M606 247h.01M607 227h.01M607 255h.01M608 233h.01M608 249h.01M609 233h.01M609 246h.01M610 233h.01M610 249h.01M611 233h.01M611 245h.01M612 231h.01M612 246h.01M613 230h.01M613 253h.01M614 233h.01M614 247h.01M615 228h.01M615 253h.01M616 235h.01M616 246h.01M617 233h.01M617 246h.01M618 230h.01M618 252h.01M619 233h.01M619 249h.01M620 224h.01M620 252h.01M621 234h.01M621 249h.01M622 226h.01M622 253h.01M623 238h.01M623 246h.01M624 236h.01M624 243h.01M625 229h.01M625 250h.01M626 226h.01M626 260h.01M627 233h.01M627 243h.01M628 226h.01M628 255h.01M629 231h.01M629 248h.01M630 233h.01M630 251h.01M631 220h.01M631 260h.01M632 222h.01M632 258h.01M633 231h.01M633 249h.01M634 237h.01M634 241h.01M635 232h.01M635 251h.01M636 231h.01M636 247h.01" stroke="#00dc00" stroke-width="5" stroke-linecap="round"/>
<path d="M588 236V245M589 230V251M590 234V246M591 233V248M592 225V254M593 231V247M594 232V250M595 234V242M596 234V246M597 234V247M598 235V247M599 230V252M600 234V246M601 232V250M602 230V248M603 235V246M604 231V248M605 230V252M606 230V252M607 232V248M608 235V246M609 227V250M610 234V246M611 235V245M612 231V250M613 231V250M614 226V255M615 227V251M616 235V243M617 237V245M618 235V248M619 230V249M620 224V254M621 228V250M622 233V248M623 230V252M624 235V245M625 232V253M626 235V249M627 234V247M628 236V243" stroke="#0000dc"/><path d="M588 236h.01M588 245h.01M589 230h.01M589 251h.01M590 234h.01M590 246h.01M591 233h.01M591 248h.01M592 225h.01M592 254h.01M593 231h.01M593 247h.01M594 232h.01M594 250h.01M595 234h.01M595 242h.01M596 234h.01M596 246h.01M597 234h.01M597 247h.01M598 235h.01M598 247h.01M599 230h.01M599 252h.01M600 234h.01M600 246h.01M601 232h.01M601 250h.01M602 230h.01M602 248h.01M603 235h.01M603 246h.01M604 231h.01M604 248h.01M605 230h.01M605 252h.01M606 230h.01M606 252h.01M607 232h.01M607 248h.01M608 235h.01M608 246h.01M609 227h.01M609 250h.01M610 234h.01M610 246h.01M611 235h.01M611 245h.01M612 231h.01M612 250h.01M613 231h.01M613 250h.01M614 226h.01M614 255h.01M615 227h.01M615 251h.01M616 235h.01M616 243h.01M617 237h.01M617 245h.01M618 235h.01M618 248h.01M619 230h.01M619 249h.01M620 224h.01M620 254h.01M621 228h.01M621 250h.01M622 233h.01M622 248h.01M623 230h.01M623 252h.01M624 235h.01M624 245h.01M625 232h.01M625 253h.01M626 235h.01M626 249h.01M627 234h.01M627 247h.01M628 236h.01M628 243h.01" stroke="#0000dc" stroke-width="5" stroke-linecap="round"/>
<path d="M628 235V244M629 232V251M630 237V243M631 233V251M632 231V252M633 237V246M634 229V249M635 232V249M636 233V248M637 235V247M638 233V244" stroke="#dcdc00"/><path d="M628 235h.01M628 244h.01M629 232h.01M629 251h.01M630 237h.01M630 243h.01M631 233h.01M631 251h.01M632 231h.01M632 252h.01M633 237h.01M633 246h.01M634 229h.01M634 249h.01M635 232h.01M635 249h.01M636 233h.01M636 248h.01M637 235h.01M637 247h.01M638 233h.01M638 244h.01" stroke="#dcdc00" stroke-width="5" stroke-linecap="round"/>
<path d="M636 232V249M637 230V250M638 235V245M639 235V245M640 234V243" stroke="#dc00dc"/><path d="M636 232h.01M636 249h.01M637 230h.01M637 250h.01M638 235h.01M638 245h.01M639 235h.01M639 245h.01M640 234h.01M640 243h.01" stroke="#dc00dc" stroke-width="5" stroke-linecap="round"/>
<path d="M644 234V245M645 233V249M646 230V250M647 228V254M648 232V252M649 234V248M650 220V258M651 230V249M652 229V255" stroke="#000000"/><path d="M644 234h.01M644 245h.01M645 233h.01M645 249h.01M646 230h.01M646 250h.01M647 228h.01M647 254h.01M648 232h.01M648 252h.01M649 234h.01M649 248h.01M650 220h.01M650 258h.01M651 230h.01M651 249h.01M652 229h.01M652 255h.01" stroke="#000000" stroke-width="5" stroke-linecap="round"/>
<path d="M636 234V248M637 223V256M638 228V252M639 228V252M640 222V256M641 229V254M642 224V255M643 222V258M644 230V251M645 235V244M646 221V260M647 232V248M648 225V255M649 226V259M650 230V246M651 230V249M652 230V250M653 234V246M654 236V245M655 234V243M656 230V255M657 229V250M658 232V248M659 228V252M660 231V246M661 233V245M662 231V247" stroke="#b4b4b4"/><path d="M636 234h.01M636 248h.01M637 223h.01M637 256h.01M638 228h.01M638 252h.01M639 228h.01M639 252h.01M640 222h.01M640 256h.01M641 229h.01M641 254h.01M642 224h.01M642 255h.01M643 222h.01M643 258h.01M644 230h.01M644 251h.01M645 235h.01M645 244h.01M646 221h.01M646 260h.01M647 232h.01M647 248h.01M648 225h.01M648 255h.01M649 226h.01M649 259h.01M650 230h.01M650 246h.01M651 230h.01M651 249h.01M652 230h.01M652 250h.01M653 234h.01M653 246h.01M654 236h.01M654 245h.01M655 234h.01M655 243h.01M656 230h.01M656 255h.01M657 229h.01M657 250h.01M658 232h.01M658 248h.01M659 228h.01M659 252h.01M660 231h.01M660 246h.01M661 233h.01M661 245h.01M662 231h.01M662 247h.01" stroke="#b4b4b4" stroke-width="5" stroke-linecap="round"/>
<path d="M650 234V250M651 235V243M652 234V242M653 239V241M654 227V253M655 230V247M656 236V241" stroke="#dc00dc"/><path d="M650 234h.01M650 250h.01M651 235h.01M651 243h.01M652 234h.01M652 242h.01M653 239h.01M653 241h.01M654 227h.01M654 253h.01M655 230h.01M655 247h.01M656 236h.01M656 241h.01" stroke="#dc00dc" stroke-width="5" stroke-linecap="round"/>
<path d="M652 236V243M653 235V250M654 231V247M655 235V248M656 233V247M657 230V251M658 237V246M659 233V248M660 228V252" stroke="#0000dc"/><path d="M652 236h.01M652 243h.01M653 235h.01M653 250h.01M654 231h.01M654 247h.01M655 235h.01M655 248h.01M656 233h.01M656 247h.01M657 230h.01M657 251h.01M658 237h.01M658 246h.01M659 233h.01M659 248h.01M660 228h.01M660 252h.01" stroke="#0000dc" stroke-width="5" stroke-linecap="round"/>
<path d="M654 231V248M655 232V250M656 231V253M657 231V251M658 231V248M659 225V254M660 234V246M661 225V256M662 228V253M663 227V255M664 231V251M665 231V250M666 231V249M667 236V244M668 234V244" stroke="#00dc00"/><path d="M654 231h.01M654 248h.01M655 232h.01M655 250h.01M656 231h.01M656 253h.01M657 231h.01M657 251h.01M658 231h.01M658 248h.01M659 225h.01M659 254h.01M660 234h.01M660 246h.01M661 225h.01M661 256h.01M662 228h.01M662 253h.01M663 227h.01M663 255h.01M664 231h.01M664 251h.01M665 231h.01M665 250h.01M666 231h.01M666 249h.01M667 236h.01M667 244h.01M668 234h.01M668 244h.01" stroke="#00dc00" stroke-width="5" stroke-linecap="round"/>
<path d="M664 234V245M665 231V250M666 229V248M667 225V252M668 229V250M669 230V247M670 233V250M671 236V245M672 235V247M673 230V249M674 230V248M675 232V248M676 231V250M677 233V243M678 232V249M679 234V247M680 232V249M681 237V242M682 233V248M683 232V250M684 230V250M685 235V247M686 232V251M687 224V261M688 235V247" stroke="#dc0000"/><path d="M664 234h.01M664 245h.01M665 231h.01M665 250h.01M666 229h.01M666 248h.01M667 225h.01M667 252h.01M668 229h.01M668 250h.01M669 230h.01M669 247h.01M670 233h.01M670 250h.01M671 236h.01M671 245h.01M672 235h.01M672 247h.01M673 230h.01M673 249h.01M674 230h.01M674 248h.01M675 232h.01M675 248h.01M676 231h.01M676 250h.01M677 233h.01M677 243h.01M678 232h.01M678 249h.01M679 234h.01M679 247h.01M680 232h.01M680 249h.01M681 237h.01M681 242h.01M682 233h.01M682 248h.01M683 232h.01M683 250h.01M684 230h.01M684 250h.01M685 235h.01M685 247h.01M686 232h.01M686 251h.01M687 224h.01M687 261h.01M688 235h.01M688 247h.01" stroke="#dc0000" stroke-width="5" stroke-linecap="round"/>
<path d="M672 233V247M673 234V245M674 234V243M675 234V249M676 234V243M677 224V258M678 235V246M679 238V246M680 229V252M681 234V247M682 231V248M683 228V255M684 233V247M685 231V249M686 225V254M687 229V249M688 225V252" stroke="#dcdc00"/><path d="M672 233h.01M672 247h.01M673 234h.01M673 245h.01M674 234h.01M674 243h.01M675 234h.01M675 249h.01M676 234h.01M676 243h.01M677 224h.01M677 258h.01M678 235h.01M678 246h.01M679 238h.01M679 246h.01M680 229h.01M680 252h.01M681 234h.01M681 247h.01M682 231h.01M682 248h.01M683 228h.01M683 255h.01M684 233h.01M684 247h.01M685 231h.01M685 249h.01M686 225h.01M686 254h.01M687 229h.01M687 249h.01M688 225h.01M688 252h.01" stroke="#dcdc00" stroke-width="5" stroke-linecap="round"/>
<path d="M674 232V245M675 231V250M676 235V245M677 235V247M678 226V253M679 231V253M680 230V256M681 231V247M682 232V250M683 234V246M684 226V257M685 234V245M686 231V252M687 231V252M688 221V258" stroke="#0000dc"/><path d="M674 232h.01M674 245h.01M675 231h.01M675 250h.01M676 235h.01M676 245h.01M677 235h.01M677 247h.01M678 226h.01M678 253h.01M679 231h.01M679 253h.01M680 230h.01M680 256h.01M681 231h.01M681 247h.01M682 232h.01M682 250h.01M683 234h.01M683 246h.01M684 226h.01M684 257h.01M685 234h.01M685 245h.01M686 231h.01M686 252h.01M687 231h.01M687 252h.01M688 221h.01M688 258h.01" stroke="#0000dc" stroke-width="5" stroke-linecap="round"/>
<path d="M80 237V241M82 231V250M84 218V261M86 230V248M88 223V255M90 220V259M92 232V248" stroke="#000000"/><path d="M80 237h.01M80 241h.01M82 231h.01M82 250h.01M84 218h.01M84 261h.01M86 230h.01M86 248h.01M88 223h.01M88 255h.01M90 220h.01M90 259h.01M92 232h.01M92 248h.01" stroke="#000000" stroke-width="5" stroke-linecap="round"/>
<path d="M97 229V250M99 234V249M101 230V250M103 221V258M105 233V245M107 230V252M109 227V253" stroke="#000000"/><path d="M97 229h.01M97 250h.01M99 234h.01M99 249h.01M101 230h.01M101 250h.01M103 221h.01M103 258h.01M105 233h.01M105 245h.01M107 230h.01M107 252h.01M109 227h.01M109 253h.01" stroke="#000000" stroke-width="5" stroke-linecap="round"/>
<path d="M88 229V250M90 232V249M92 228V253M94 231V248M96 228V256M98 228V254M100 236V248M102 220V257" stroke="#b4b4b4"/><path d="M88 229h.01M88 250h.01M90 232h.01M90 249h.01M92 228h.01M92 253h.01M94 231h.01M94 248h.01M96 228h.01M96 256h.01M98 228h.01M98 254h.01M100 236h.01M100 248h.01M102 220h.01M102 257h.01" stroke="#b4b4b4" stroke-width="5" stroke-linecap="round"/>
<path d="M104 233V246M106 235V246M108 226V252M110 232V246M112 235V246M114 234V246M116 232V249M118 237V242M120 228V253M122 224V255M124 233V241M126 237V243M128 226V255M130 226V252M132 228V252M134 230V247M136 235V244" stroke="#0000dc"/><path d="M104 233h.01M104 246h.01M106 235h.01M106 246h.01M108 226h.01M108 252h.01M110 232h.01M110 246h.01M112 235h.01M112 246h.01M114 234h.01M114 246h.01M116 232h.01M116 249h.01M118 237h.01M118 242h.01M120 228h.01M120 253h.01M122 224h.01M122 255h.01M124 233h.01M124 241h.01M126 237h.01M126 243h.01M128 226h.01M128 255h.01M130 226h.01M130 252h.01M132 228h.01M132 252h.01M134 230h.01M134 247h.01M136 235h.01M136 244h.01" stroke="#0000dc" stroke-width="5" stroke-linecap="round"/>
<path d="M135 230V250M137 234V246M139 236V244M141 237V242M143 233V249M145 220V257M147 231V248M149 232V249" stroke="#dcdc00"/><path d="M135 230h.01M135 250h.01M137 234h.01M137 246h.01M139 236h.01M139 244h.01M141 237h.01M141 242h.01M143 233h.01M143 249h.01M145 220h.01M145 257h.01M147 231h.01M147 248h.01M149 232h.01M149 249h.01" stroke="#dcdc00" stroke-width="5" stroke-linecap="round"/>
<path d="M148 234V243M150 234V245M152 235V245M154 233V249M156 238V241M158 234V248M160 232V250M162 228V252M164 236V245M166 235V246M168 230V249M170 234V243M172 235V245M174 235V243M176 230V249M178 232V250M180 235V247M182 230V249M184 235V248" stroke="#dc00dc"/><path d="M148 234h.01M148 243h.01M150 234h.01M150 245h.01M152 235h.01M152 245h.01M154 233h.01M154 249h.01M156 238h.01M156 241h.01M158 234h.01M158 248h.01M160 232h.01M160 250h.01M162 228h.01M162 252h.01M164 236h.01M164 245h.01M166 235h.01M166 246h.01M168 230h.01M168 249h.01M170 234h.01M170 243h.01M172 235h.01M172 245h.01M174 235h.01M174 243h.01M176 230h.01M176 249h.01M178 232h.01M178 250h.01M180 235h.01M180 247h.01M182 230h.01M182 249h.01M184 235h.01M184 248h.01" stroke="#dc00dc" stroke-width="5" stroke-linecap="round"/>
<path d="M186 235V246M188 231V247M190 227V256M192 229V251M194 224V256M196 230V248M198 233V248M200 231V248M202 235V245M204 233V244M206 233V247M208 232V247M210 231V249M212 234V243M214 234V245M216 235V245M218 234V249" stroke="#dc0000"/><path d="M186 235h.01M186 246h.01M188 231h.01M188 247h.01M190 227h.01M190 256h.01M192 229h.01M192 251h.01M194 224h.01M194 256h.01M196 230h.01M196 248h.01M198 233h.01M198 248h.01M200 231h.01M200 248h.01M202 235h.01M202 245h.01M204 233h.01M204 244h.01M206 233h.01M206 247h.01M208 232h.01M208 247h.01M210 231h.01M210 249h.01M212 234h.01M212 243h.01M214 234h.01M214 245h.01M216 235h.01M216 245h.01M218 234h.01M218 249h.01" stroke="#dc0000" stroke-width="5" stroke-linecap="round"/>
<path d="M204 234V248M206 225V250M208 234V243M210 230V245M212 226V256M214 231V250M216 230V253M218 229V249M220 235V242M222 233V248M224 234V250M226 236V245" stroke="#00dcdc"/><path d="M204 234h.01M204 248h.01M206 225h.01M206 250h.01M208 234h.01M208 243h.01M210 230h.01M210 245h.01M212 226h.01M212 256h.01M214 231h.01M214 250h.01M216 230h.01M216 253h.01M218 229h.01M218 249h.01M220 235h.01M220 242h.01M222 233h.01M222 248h.01M224 234h.01M224 250h.01M226 236h.01M226 245h.01" stroke="#00dcdc" stroke-width="5" stroke-linecap="round"/>
<path d="M208 232V247M210 231V245M212 233V247M214 229V249M216 226V257M218 233V249M220 231V251M222 235V243M224 233V245M226 233V247M228 233V249M230 227V254M232 232V248M234 224V256M236 232V249M238 229V252M240 234V248M242 235V244" stroke="#0000dc"/><path d="M208 232h.01M208 247h.01M210 231h.01M210 245h.01M212 233h.01M212 247h.01M214 229h.01M214 249h.01M216 226h.01M216 257h.01M218 233h.01M218 249h.01M220 231h.01M220 251h.01M222 235h.01M222 243h.01M224 233h.01M224 245h.01M226 233h.01M226 247h.01M228 233h.01M228 249h.01M230 227h.01M230 254h.01M232 232h.01M232 248h.01M234 224h.01M234 256h.01M236 232h.01M236 249h.01M238 229h.01M238 252h.01M240 234h.01M240 248h.01M242 235h.01M242 244h.01" stroke="#0000dc" stroke-width="5" stroke-linecap="round"/>
<path d="M238 234V242M240 237V243M242 230V249M244 231V249M246 229V250M248 233V248M250 237V243M252 233V245M254 235V246M256 233V249M258 233V247M260 232V248M262 225V253M264 237V246M266 234V251M268 234V244M270 230V247M272 234V245" stroke="#00dc00"/><path d="M238 234h.01M238 242h.01M240 237h.01M240 243h.01M242 230h.01M242 249h.01M244 231h.01M244 249h.01M246 229h.01M246 250h.01M248 233h.01M248 248h.01M250 237h.01M250 243h.01M252 233h.01M252 245h.01M254 235h.01M254 246h.01M256 233h.01M256 249h.01M258 233h.01M258 247h.01M260 232h.01M260 248h.01M262 225h.01M262 253h.01M264 237h.01M264 246h.01M266 234h.01M266 251h.01M268 234h.01M268 244h.01M270 230h.01M270 247h.01M272 234h.01M272 245h.01" stroke="#00dc00" stroke-width="5" stroke-linecap="round"/>
<path d="M261 237V246M264 232V247M267 234V248M270 235V245M273 228V249" stroke="#000000"/><path d="M261 237h.01M261 246h.01M264 232h.01M264 247h.01M267 234h.01M267 248h.01M270 235h.01M270 245h.01M273 228h.01M273 249h.01" stroke="#000000" stroke-width="5" stroke-linecap="round"/>
<path d="M278 237V245M280 231V253M282 234V245M284 230V249M286 230V253M288 237V242M290 228V250M292 232V250M294 233V245M296 227V252M298 230V252M300 233V245M302 225V252M304 235V244M306 230V249M308 225V254M310 221V256M312 231V248M314 232V247M316 233V250M318 238V240" stroke="#dc00dc"/><path d="M278 237h.01M278 245h.01M280 231h.01M280 253h.01M282 234h.01M282 245h.01M284 230h.01M284 249h.01M286 230h.01M286 253h.01M288 237h.01M288 242h.01M290 228h.01M290 250h.01M292 232h.01M292 250h.01M294 233h.01M294 245h.01M296 227h.01M296 252h.01M298 230h.01M298 252h.01M300 233h.01M300 245h.01M302 225h.01M302 252h.01M304 235h.01M304 244h.01M306 230h.01M306 249h.01M308 225h.01M308 254h.01M310 221h.01M310 256h.01M312 231h.01M312 248h.01M314 232h.01M314 247h.01M316 233h.01M316 250h.01M318 238h.01M318 240h.01" stroke="#dc00dc" stroke-width="5" stroke-linecap="round"/>
<path d="M348 237V243M350 236V242M352 237V243M354 232V247M356 232V248M358 233V250M360 230V253M362 230V250M364 227V256M366 228V250M368 234V244M370 231V247M372 235V244" stroke="#00dcdc"/><path d="M348 237h.01M348 243h.01M350 236h.01M350 242h.01M352 237h.01M352 243h.01M354 232h.01M354 247h.01M356 232h.01M356 248h.01M358 233h.01M358 250h.01M360 230h.01M360 253h.01M362 230h.01M362 250h.01M364 227h.01M364 256h.01M366 228h.01M366 250h.01M368 234h.01M368 244h.01M370 231h.01M370 247h.01M372 235h.01M372 244h.01" stroke="#00dcdc" stroke-width="5" stroke-linecap="round"/>
<path d="M366 234V246M368 237V244M370 226V254M372 233V252M374 224V256M376 233V249M378 235V245M380 233V246M382 233V248M384 236V241M386 236V245M388 230V249" stroke="#dc00dc"/><path d="M366 234h.01M366 246h.01M368 237h.01M368 244h.01M370 226h.01M370 254h.01M372 233h.01M372 252h.01M374 224h.01M374 256h.01M376 233h.01M376 249h.01M378 235h.01M378 245h.01M380 233h.01M380 246h.01M382 233h.01M382 248h.01M384 236h.01M384 241h.01M386 236h.01M386 245h.01M388 230h.01M388 249h.01" stroke="#dc00dc" stroke-width="5" stroke-linecap="round"/>
<path d="M380 238V243M382 232V248M384 232V250M386 234V243M388 233V246M390 237V244M392 232V249M394 235V248M396 227V255M398 233V249M400 227V256M402 235V247M404 232V246M406 230V251M408 232V250M410 230V250M412 229V254M414 233V250M416 233V248M418 233V242M420 234V242M422 238V240M424 234V246M426 230V248M428 232V250M430 235V243M432 231V249M434 229V248M436 231V251M438 235V245M440 229V248M442 233V247M444 232V248M446 232V250M448 233V248M450 232V248M452 230V250M454 233V252M456 233V244" stroke="#0000dc"/><path d="M380 238h.01M380 243h.01M382 232h.01M382 248h.01M384 232h.01M384 250h.01M386 234h.01M386 243h.01M388 233h.01M388 246h.01M390 237h.01M390 244h.01M392 232h.01M392 249h.01M394 235h.01M394 248h.01M396 227h.01M396 255h.01M398 233h.01M398 249h.01M400 227h.01M400 256h.01M402 235h.01M402 247h.01M404 232h.01M404 246h.01M406 230h.01M406 251h.01M408 232h.01M408 250h.01M410 230h.01M410 250h.01M412 229h.01M412 254h.01M414 233h.01M414 250h.01M416 233h.01M416 248h.01M418 233h.01M418 242h.01M420 234h.01M420 242h.01M422 238h.01M422 240h.01M424 234h.01M424 246h.01M426 230h.01M426 248h.01M428 232h.01M428 250h.01M430 235h.01M430 243h.01M432 231h.01M432 249h.01M434 229h.01M434 248h.01M436 231h.01M436 251h.01M438 235h.01M438 245h.01M440 229h.01M440 248h.01M442 233h.01M442 247h.01M444 232h.01M444 248h.01M446 232h.01M446 250h.01M448 233h.01M448 248h.01M450 232h.01M450 248h.01M452 230h.01M452 250h.01M454 233h.01M454 252h.01M456 233h.01M456 244h.01" stroke="#0000dc" stroke-width="5" stroke-linecap="round"/>
<path d="M456 231V252M458 231V247M460 228V255M462 235V244M464 230V249M466 227V253M468 232V248M470 230V254M472 237V243M474 232V249M476 228V251M478 235V246M480 230V247M482 230V249M484 233V244M486 236V246" stroke="#00dcdc"/><path d="M456 231h.01M456 252h.01M458 231h.01M458 247h.01M460 228h.01M460 255h.01M462 235h.01M462 244h.01M464 230h.01M464 249h.01M466 227h.01M466 253h.01M468 232h.01M468 248h.01M470 230h.01M470 254h.01M472 237h.01M472 243h.01M474 232h.01M474 249h.01M476 228h.01M476 251h.01M478 235h.01M478 246h.01M480 230h.01M480 247h.01M482 230h.01M482 249h.01M484 233h.01M484 244h.01M486 236h.01M486 246h.01" stroke="#00dcdc" stroke-width="5" stroke-linecap="round"/>
<path d="M493 235V246M496 225V255M499 224V255M502 228V251M505 226V256M508 218V260M511 218V260M514 226V256" stroke="#dc0000"/><path d="M493 235h.01M493 246h.01M496 225h.01M496 255h.01M499 224h.01M499 255h.01M502 228h.01M502 251h.01M505 226h.01M505 256h.01M508 218h.01M508 260h.01M511 218h.01M511 260h.01M514 226h.01M514 256h.01" stroke="#dc0000" stroke-width="5" stroke-linecap="round"/>
<path d="M540 229V248M542 235V242M544 229V253M546 227V256M548 227V251M550 231V247M552 226V254M554 230V249M556 232V248M558 232V250M560 231V249M562 222V263M564 232V249M566 238V242M568 232V249M570 229V250M572 230V248M574 238V243M576 232V252M578 237V243" stroke="#dcdc00"/><path d="M540 229h.01M540 248h.01M542 235h.01M542 242h.01M544 229h.01M544 253h.01M546 227h.01M546 256h.01M548 227h.01M548 251h.01M550 231h.01M550 247h.01M552 226h.01M552 254h.01M554 230h.01M554 249h.01M556 232h.01M556 248h.01M558 232h.01M558 250h.01M560 231h.01M560 249h.01M562 222h.01M562 263h.01M564 232h.01M564 249h.01M566 238h.01M566 242h.01M568 232h.01M568 249h.01M570 229h.01M570 250h.01M572 230h.01M572 248h.01M574 238h.01M574 243h.01M576 232h.01M576 252h.01M578 237h.01M578 243h.01" stroke="#dcdc00" stroke-width="5" stroke-linecap="round"/>
<path d="M560 231V249M562 235V246M564 222V259M566 235V247M568 230V250M570 229V249M572 229V253M574 236V240M576 233V247M578 227V254M580 232V250M582 233V245M584 228V256M586 230V248M588 230V251M590 233V248" stroke="#b4b4b4"/><path d="M560 231h.01M560 249h.01M562 235h.01M562 246h.01M564 222h.01M564 259h.01M566 235h.01M566 247h.01M568 230h.01M568 250h.01M570 229h.01M570 249h.01M572 229h.01M572 253h.01M574 236h.01M574 240h.01M576 233h.01M576 247h.01M578 227h.01M578 254h.01M580 232h.01M580 250h.01M582 233h.01M582 245h.01M584 228h.01M584 256h.01M586 230h.01M586 248h.01M588 230h.01M588 251h.01M590 233h.01M590 248h.01" stroke="#b4b4b4" stroke-width="5" stroke-linecap="round"/>
<path d="M590 235V244M592 229V251M594 231V249M596 229V249M598 232V246M600 231V249M602 229V254M604 233V244M606 235V244M608 231V248M610 237V242M612 236V243M614 226V257M616 233V248M618 229V255M620 236V244M622 234V248" stroke="#0000dc"/><path d="M590 235h.01M590 244h.01M592 229h.01M592 251h.01M594 231h.01M594 249h.01M596 229h.01M596 249h.01M598 232h.01M598 246h.01M600 231h.01M600 249h.01M602 229h.01M602 254h.01M604 233h.01M604 244h.01M606 235h.01M606 244h.01M608 231h.01M608 248h.01M610 237h.01M610 242h.01M612 236h.01M612 243h.01M614 226h.01M614 257h.01M616 233h.01M616 248h.01M618 229h.01M618 255h.01M620 236h.01M620 244h.01M622 234h.01M622 248h.01" stroke="#0000dc" stroke-width="5" stroke-linecap="round"/>
<path d="M612 233V246M614 228V253M616 226V256M618 234V245M620 218V267M622 227V252M624 237V243M626 232V247M628 236V242M630 233V251M632 225V256M634 234V247" stroke="#00dc00"/><path d="M612 233h.01M612 246h.01M614 228h.01M614 253h.01M616 226h.01M616 256h.01M618 234h.01M618 245h.01M620 218h.01M620 267h.01M622 227h.01M622 252h.01M624 237h.01M624 243h.01M626 232h.01M626 247h.01M628 236h.01M628 242h.01M630 233h.01M630 251h.01M632 225h.01M632 256h.01M634 234h.01M634 247h.01" stroke="#00dc00" stroke-width="5" stroke-linecap="round"/>
<path d="M638 231V245M640 220V257M642 230V248M644 229V250M646 230V247M648 233V248M650 231V248M652 234V245M654 235V250" stroke="#b4b4b4"/><path d="M638 231h.01M638 245h.01M640 220h.01M640 257h.01M642 230h.01M642 248h.01M644 229h.01M644 250h.01M646 230h.01M646 247h.01M648 233h.01M648 248h.01M650 231h.01M650 248h.01M652 234h.01M652 245h.01M654 235h.01M654 250h.01" stroke="#b4b4b4" stroke-width="5" stroke-linecap="round"/>
<path d="M654 237V246M656 232V249M658 231V249M660 229V249M662 229V253M664 231V251M666 228V250M668 236V245" stroke="#00dc00"/><path d="M654 237h.01M654 246h.01M656 232h.01M656 249h.01M658 231h.01M658 249h.01M660 229h.01M660 249h.01M662 229h.01M662 253h.01M664 231h.01M664 251h.01M666 228h.01M666 250h.01M668 236h.01M668 245h.01" stroke="#00dc00" stroke-width="5" stroke-linecap="round"/>
<path d="M668 230V251M670 231V248M672 231V251M674 232V250M676 226V253M678 232V250M680 238V242M682 223V257M684 235V250M686 233V249M688 230V249" stroke="#dc0000"/><path d="M668 230h.01M668 251h.01M670 231h.01M670 248h.01M672 231h.01M672 251h.01M674 232h.01M674 250h.01M676 226h.01M676 253h.01M678 232h.01M678 250h.01M680 238h.01M680 242h.01M682 223h.01M682 257h.01M684 235h.01M684 250h.01M686 233h.01M686 249h.01M688 230h.01M688 249h.01" stroke="#dc0000" stroke-width="5" stroke-linecap="round"/>
<path d="M129 212V268" stroke="#0000dc"/><path d="M129 212h.01M129 268h.01" stroke="#0000dc" stroke-width="5" stroke-linecap="round"/>
<path d="M131 215V268" stroke="#dc0000"/><path d="M131 215h.01M131 268h.01" stroke="#dc0000" stroke-width="5" stroke-linecap="round"/>
<path d="M138 215V266" stroke="#00dcdc"/><path d="M138 215h.01M138 266h.01" stroke="#00dcdc" stroke-width="5" stroke-linecap="round"/>
<path d="M137 222V240" stroke="#dcdc00"/><path d="M137 222h.01" stroke="#dcdc00" stroke-width="5" stroke-linecap="round"/>
<path d="M107 214V262" stroke="#000000"/><path d="M107 214h.01M107 262h.01" stroke="#000000" stroke-width="5" stroke-linecap="round"/>
<path d="M85 220V261" stroke="#000000"/><path d="M85 220h.01M85 261h.01" stroke="#000000" stroke-width="5" stroke-linecap="round"/>
<path d="M189 186V275" stroke="#dc0000"/><path d="M189 186h.01M189 275h.01" stroke="#dc0000" stroke-width="5" stroke-linecap="round"/>
<path d="M189 213V240" stroke="#b4b4b4"/><path d="M189 213h.01" stroke="#b4b4b4" stroke-width="5" stroke-linecap="round"/>
<path d="M195 216V240" stroke="#00dcdc"/><path d="M195 216h.01" stroke="#00dcdc" stroke-width="5" stroke-linecap="round"/>
<path d="M247 209V275" stroke="#00dc00"/><path d="M247 209h.01M247 275h.01" stroke="#00dc00" stroke-width="5" stroke-linecap="round"/>
<path d="M248 216V240" stroke="#00dc00"/><path d="M248 216h.01" stroke="#00dc00" stroke-width="5" stroke-linecap="round"/>
<path d="M270 223V273" stroke="#dc0000"/><path d="M270 223h.01M270 273h.01" stroke="#dc0000" stroke-width="5" stroke-linecap="round"/>
<path d="M271 218V254" stroke="#000000"/><path d="M271 218h.01M271 254h.01" stroke="#000000" stroke-width="5" stroke-linecap="round"/>
<path d="M288 213V263" stroke="#b4b4b4"/><path d="M288 213h.01M288 263h.01" stroke="#b4b4b4" stroke-width="5" stroke-linecap="round"/>
<path d="M311 214V275" stroke="#dc00dc"/><path d="M311 214h.01M311 275h.01" stroke="#dc00dc" stroke-width="5" stroke-linecap="round"/>
<path d="M307 220V267" stroke="#dc00dc"/><path d="M307 220h.01M307 267h.01" stroke="#dc00dc" stroke-width="5" stroke-linecap="round"/>
<path d="M323 207V275" stroke="#dcdc00"/><path d="M323 207h.01M323 275h.01" stroke="#dcdc00" stroke-width="5" stroke-linecap="round"/>
<path d="M317 215V240" stroke="#dcdc00"/><path d="M317 215h.01" stroke="#dcdc00" stroke-width="5" stroke-linecap="round"/>
<path d="M343 189V297" stroke="#dc00dc"/><path d="M343 189h.01M343 297h.01" stroke="#dc00dc" stroke-width="5" stroke-linecap="round"/>
<path d="M343 204V272" stroke="#dc00dc"/><path d="M343 204h.01M343 272h.01" stroke="#dc00dc" stroke-width="5" stroke-linecap="round"/>
<path d="M342 220V267" stroke="#dc00dc"/><path d="M342 220h.01M342 267h.01" stroke="#dc00dc" stroke-width="5" stroke-linecap="round"/>
<path d="M346 219V240" stroke="#dc0000"/><path d="M346 219h.01" stroke="#dc0000" stroke-width="5" stroke-linecap="round"/>
<path d="M375 219V261" stroke="#00dc00"/><path d="M375 219h.01M375 261h.01" stroke="#00dc00" stroke-width="5" stroke-linecap="round"/>
<path d="M391 220V261" stroke="#00dcdc"/><path d="M391 220h.01M391 261h.01" stroke="#00dcdc" stroke-width="5" stroke-linecap="round"/>
<path d="M402 221V259" stroke="#000000"/><path d="M402 221h.01M402 259h.01" stroke="#000000" stroke-width="5" stroke-linecap="round"/>
<path d="M413 219V267" stroke="#00dcdc"/><path d="M413 219h.01M413 267h.01" stroke="#00dcdc" stroke-width="5" stroke-linecap="round"/>
<path d="M445 220V263" stroke="#b4b4b4"/><path d="M445 220h.01M445 263h.01" stroke="#b4b4b4" stroke-width="5" stroke-linecap="round"/>
<path d="M491 220V260" stroke="#00dc00"/><path d="M491 220h.01M491 260h.01" stroke="#00dc00" stroke-width="5" stroke-linecap="round"/>
<path d="M507 213V267" stroke="#000000"/><path d="M507 213h.01M507 267h.01" stroke="#000000" stroke-width="5" stroke-linecap="round"/>
<path d="M513 215V268" stroke="#0000dc"/><path d="M513 215h.01M513 268h.01" stroke="#0000dc" stroke-width="5" stroke-linecap="round"/>
<path d="M518 215V265" stroke="#0000dc"/><path d="M518 215h.01M518 265h.01" stroke="#0000dc" stroke-width="5" stroke-linecap="round"/>
<path d="M516 214V240" stroke="#b4b4b4"/><path d="M516 214h.01" stroke="#b4b4b4" stroke-width="5" stroke-linecap="round"/>
<path d="M503 214V265" stroke="#dc0000"/><path d="M503 214h.01M503 265h.01" stroke="#dc0000" stroke-width="5" stroke-linecap="round"/>
<path d="M543 202V284" stroke="#dcdc00"/><path d="M543 202h.01M543 284h.01" stroke="#dcdc00" stroke-width="5" stroke-linecap="round"/>
<path d="M546 210V240" stroke="#dcdc00"/><path d="M546 210h.01" stroke="#dcdc00" stroke-width="5" stroke-linecap="round"/>
<path d="M552 215V269" stroke="#dc0000"/><path d="M552 215h.01M552 269h.01" stroke="#dc0000" stroke-width="5" stroke-linecap="round"/>
<path d="M546 215V260" stroke="#00dc00"/><path d="M546 215h.01M546 260h.01" stroke="#00dc00" stroke-width="5" stroke-linecap="round"/>
<path d="M576 221V240" stroke="#0000dc"/><path d="M576 221h.01" stroke="#0000dc" stroke-width="5" stroke-linecap="round"/>
<path d="M587 220V240" stroke="#b4b4b4"/><path d="M587 220h.01" stroke="#b4b4b4" stroke-width="5" stroke-linecap="round"/>
<path d="M584 220V257" stroke="#00dcdc"/><path d="M584 220h.01M584 257h.01" stroke="#00dcdc" stroke-width="5" stroke-linecap="round"/>
<path d="M600 218V240" stroke="#dc00dc"/><path d="M600 218h.01" stroke="#dc00dc" stroke-width="5" stroke-linecap="round"/>
<path d="M609 216V259" stroke="#b4b4b4"/><path d="M609 216h.01M609 259h.01" stroke="#b4b4b4" stroke-width="5" stroke-linecap="round"/>
<path d="M617 206V240" stroke="#000000"/><path d="M617 206h.01" stroke="#000000" stroke-width="5" stroke-linecap="round"/>
<path d="M617 240V264" stroke="#00dc00"/><path d="M617 264h.01" stroke="#00dc00" stroke-width="5" stroke-linecap="round"/>
<path d="M628 240V262" stroke="#00dc00"/><path d="M628 262h.01" stroke="#00dc00" stroke-width="5" stroke-linecap="round"/>
<path d="M645 214V268" stroke="#b4b4b4"/><path d="M645 214h.01M645 268h.01" stroke="#b4b4b4" stroke-width="5" stroke-linecap="round"/>
<path d="M640 217V240" stroke="#b4b4b4"/><path d="M640 217h.01" stroke="#b4b4b4" stroke-width="5" stroke-linecap="round"/>
<path d="M642 240V262" stroke="#000000"/><path d="M642 262h.01" stroke="#000000" stroke-width="5" stroke-linecap="round"/>
<path d="M657 208V262" stroke="#00dc00"/><path d="M657 208h.01M657 262h.01" stroke="#00dc00" stroke-width="5" stroke-linecap="round"/>
<path d="M657 216V240" stroke="#0000dc"/><path d="M657 216h.01" stroke="#0000dc" stroke-width="5" stroke-linecap="round"/>
<path d="M667 208V264" stroke="#dc0000"/><path d="M667 208h.01M667 264h.01" stroke="#dc0000" stroke-width="5" stroke-linecap="round"/>
<path d="M72 231V249M73 230V250M74 227V250M75 229V252M76 228V254M77 228V251M78 228V250" stroke="#00dcdc"/><path d="M72 231h.01M72 249h.01M73 230h.01M73 250h.01M74 227h.01M74 250h.01M75 229h.01M75 252h.01M76 228h.01M76 254h.01M77 228h.01M77 251h.01M78 228h.01M78 250h.01" stroke="#00dcdc" stroke-width="5" stroke-linecap="round"/>
<path d="M80 233V243M81 233V242M82 232V245M83 233V243M84 232V244M85 231V247M86 232V244M87 232V248M88 233V244M89 232V244M90 231V245M91 232V245M92 232V247M93 234V244M94 233V241M95 234V243M96 232V245" stroke="#0000dc"/><path d="M80 233h.01M80 243h.01M81 233h.01M81 242h.01M82 232h.01M82 245h.01M83 233h.01M83 243h.01M84 232h.01M84 244h.01M85 231h.01M85 247h.01M86 232h.01M86 244h.01M87 232h.01M87 248h.01M88 233h.01M88 244h.01M89 232h.01M89 244h.01M90 231h.01M90 245h.01M91 232h.01M91 245h.01M92 232h.01M92 247h.01M93 234h.01M93 244h.01M94 233h.01M94 241h.01M95 234h.01M95 243h.01M96 232h.01M96 245h.01" stroke="#0000dc" stroke-width="5" stroke-linecap="round"/>
<path d="M98 235V245M99 234V247M100 234V245M101 235V247M102 233V246M103 232V249M104 233V246M105 233V248M106 231V253M107 233V247M108 235V247M109 236V244M110 233V246M111 235V243M112 232V250M113 235V244M114 236V244M115 235V244M116 235V246M117 234V247M118 235V244M119 233V246M120 236V244M121 233V249M122 234V246M123 232V248M124 235V244M125 234V248M126 235V243M127 235V245M128 231V248M129 231V249M130 233V246M131 235V246M132 234V246M133 233V248M134 236V245M135 232V248M136 236V245M137 235V245M138 233V249M139 237V244M140 233V248M141 236V246M142 234V248M143 233V247M144 234V247M145 236V244M146 239V243M147 237V244M148 235V245M149 235V247M150 234V248M151 233V247M152 235V246M153 234V246M154 237V243M155 236V245M156 235V244M157 234V245M158 234V246M159 237V242M160 234V247M161 238V240M162 233V246M163 236V242M164 237V241M165 236V244M166 234V244M167 235V246M168 234V246M169 235V247M170 238V241M171 237V241M172 234V245M173 236V245M174 234V247M175 234V246M176 234V246M177 238V243M178 236V245M179 235V246M180 233V251M181 235V245M182 232V250M183 234V246M184 233V247M185 233V247M186 234V248M187 232V250M188 233V247M189 233V247M190 235V245M191 234V246M192 233V248M193 233V249M194 236V242M195 237V243M196 234V247M197 233V244M198 235V243M199 236V245M200 237V242M201 235V244M202 234V247M203 235V246M204 232V248M205 233V249" stroke="#b4b4b4"/><path d="M98 235h.01M98 245h.01M99 234h.01M99 247h.01M100 234h.01M100 245h.01M101 235h.01M101 247h.01M102 233h.01M102 246h.01M103 232h.01M103 249h.01M104 233h.01M104 246h.01M105 233h.01M105 248h.01M106 231h.01M106 253h.01M107 233h.01M107 247h.01M108 235h.01M108 247h.01M109 236h.01M109 244h.01M110 233h.01M110 246h.01M111 235h.01M111 243h.01M112 232h.01M112 250h.01M113 235h.01M113 244h.01M114 236h.01M114 244h.01M115 235h.01M115 244h.01M116 235h.01M116 246h.01M117 234h.01M117 247h.01M118 235h.01M118 244h.01M119 233h.01M119 246h.01M120 236h.01M120 244h.01M121 233h.01M121 249h.01M122 234h.01M122 246h.01M123 232h.01M123 248h.01M124 235h.01M124 244h.01M125 234h.01M125 248h.01M126 235h.01M126 243h.01M127 235h.01M127 245h.01M128 231h.01M128 248h.01M129 231h.01M129 249h.01M130 233h.01M130 246h.01M131 235h.01M131 246h.01M132 234h.01M132 246h.01M133 233h.01M133 248h.01M134 236h.01M134 245h.01M135 232h.01M135 248h.01M136 236h.01M136 245h.01M137 235h.01M137 245h.01M138 233h.01M138 249h.01M139 237h.01M139 244h.01M140 233h.01M140 248h.01M141 236h.01M141 246h.01M142 234h.01M142 248h.01M143 233h.01M143 247h.01M144 234h.01M144 247h.01M145 236h.01M145 244h.01M146 239h.01M146 243h.01M147 237h.01M147 244h.01M148 235h.01M148 245h.01M149 235h.01M149 247h.01M150 234h.01M150 248h.01M151 233h.01M151 247h.01M152 235h.01M152 246h.01M153 234h.01M153 246h.01M154 237h.01M154 243h.01M155 236h.01M155 245h.01M156 235h.01M156 244h.01M157 234h.01M157 245h.01M158 234h.01M158 246h.01M159 237h.01M159 242h.01M160 234h.01M160 247h.01M161 238h.01M161 240h.01M162 233h.01M162 246h.01M163 236h.01M163 242h.01M164 237h.01M164 241h.01M165 236h.01M165 244h.01M166 234h.01M166 244h.01M167 235h.01M167 246h.01M168 234h.01M168 246h.01M169 235h.01M169 247h.01M170 238h.01M170 241h.01M171 237h.01M171 241h.01M172 234h.01M172 245h.01M173 236h.01M173 245h.01M174 234h.01M174 247h.01M175 234h.01M175 246h.01M176 234h.01M176 246h.01M177 238h.01M177 243h.01M178 236h.01M178 245h.01M179 235h.01M179 246h.01M180 233h.01M180 251h.01M181 235h.01M181 245h.01M182 232h.01M182 250h.01M183 234h.01M183 246h.01M184 233h.01M184 247h.01M185 233h.01M185 247h.01M186 234h.01M186 248h.01M187 232h.01M187 250h.01M188 233h.01M188 247h.01M189 233h.01M189 247h.01M190 235h.01M190 245h.01M191 234h.01M191 246h.01M192 233h.01M192 248h.01M193 233h.01M193 249h.01M194 236h.01M194 242h.01M195 237h.01M195 243h.01M196 234h.01M196 247h.01M197 233h.01M197 244h.01M198 235h.01M198 243h.01M199 236h.01M199 245h.01M200 237h.01M200 242h.01M201 235h.01M201 244h.01M202 234h.01M202 247h.01M203 235h.01M203 246h.01M204 232h.01M204 248h.01M205 233h.01M205 249h.01" stroke="#b4b4b4" stroke-width="5" stroke-linecap="round"/>
<path d="M285 235V245M286 236V245M287 233V246M288 236V245M289 234V244M290 235V246M291 232V246M292 233V246M293 234V245M294 234V249M295 234V246M296 234V245M297 234V246M298 233V245M299 234V246M300 232V246M301 234V248M302 233V245M303 232V247M304 234V245M305 234V246M306 235V245M307 233V248M308 235V244M309 232V249" stroke="#dcdc00"/><path d="M285 235h.01M285 245h.01M286 236h.01M286 245h.01M287 233h.01M287 246h.01M288 236h.01M288 245h.01M289 234h.01M289 244h.01M290 235h.01M290 246h.01M291 232h.01M291 246h.01M292 233h.01M292 246h.01M293 234h.01M293 245h.01M294 234h.01M294 249h.01M295 234h.01M295 246h.01M296 234h.01M296 245h.01M297 234h.01M297 246h.01M298 233h.01M298 245h.01M299 234h.01M299 246h.01M300 232h.01M300 246h.01M301 234h.01M301 248h.01M302 233h.01M302 245h.01M303 232h.01M303 247h.01M304 234h.01M304 245h.01M305 234h.01M305 246h.01M306 235h.01M306 245h.01M307 233h.01M307 248h.01M308 235h.01M308 244h.01M309 232h.01M309 249h.01" stroke="#dcdc00" stroke-width="5" stroke-linecap="round"/>
<path d="M310 234V246M311 235V245M312 236V247M313 234V245M314 234V246M315 235V244M316 233V247M317 234V245M318 235V246M319 236V245M320 234V248M321 235V244M322 234V248" stroke="#00dc00"/><path d="M310 234h.01M310 246h.01M311 235h.01M311 245h.01M312 236h.01M312 247h.01M313 234h.01M313 245h.01M314 234h.01M314 246h.01M315 235h.01M315 244h.01M316 233h.01M316 247h.01M317 234h.01M317 245h.01M318 235h.01M318 246h.01M319 236h.01M319 245h.01M320 234h.01M320 248h.01M321 235h.01M321 244h.01M322 234h.01M322 248h.01" stroke="#00dc00" stroke-width="5" stroke-linecap="round"/>
<path d="M324 234V245M325 231V250M326 231V248M327 231V249M328 232V248M329 231V250M330 231V251M331 230V253M332 233V246M333 233V248" stroke="#00dcdc"/><path d="M324 234h.01M324 245h.01M325 231h.01M325 250h.01M326 231h.01M326 248h.01M327 231h.01M327 249h.01M328 232h.01M328 248h.01M329 231h.01M329 250h.01M330 231h.01M330 251h.01M331 230h.01M331 253h.01M332 233h.01M332 246h.01M333 233h.01M333 248h.01" stroke="#00dcdc" stroke-width="5" stroke-linecap="round"/>
<path d="M334 230V251M335 234V248M336 233V246M337 236V243M338 236V243M339 234V247M340 232V246M341 235V248M342 232V248M343 232V248M344 231V248M345 229V250M346 235V245M347 236V243M348 232V249M349 225V253M350 232V247M351 232V245M352 233V248M353 236V245M354 234V246M355 229V251M356 234V246M357 236V243M358 234V247M359 235V245M360 235V244M361 233V247M362 237V243M363 234V246M364 235V243M365 234V243M366 235V245M367 235V245M368 237V243M369 235V244M370 234V247M371 234V244M372 237V245M373 235V247M374 234V246M375 233V245M376 238V244M377 233V246M378 233V246M379 233V247M380 235V246M381 236V245M382 232V248M383 233V245M384 237V244M385 235V245M386 234V247M387 234V245M388 235V245M389 234V246M390 232V249M391 235V245M392 235V247M393 236V243M394 236V243M395 238V244M396 237V242M397 234V245M398 236V242M399 235V245M400 233V249M401 235V245M402 233V245M403 236V244M404 236V245M405 237V244M406 234V247M407 234V244M408 234V245M409 235V249M410 233V246M411 236V243M412 235V244M413 234V245M414 235V244M415 235V245M416 236V245M417 235V245M418 233V249M419 234V244M420 235V246M421 237V244M422 234V247M423 233V247M424 238V242M425 233V247M426 235V246M427 234V248M428 237V245M429 236V245M430 236V242M431 232V247M432 237V241M433 235V245M434 234V246M435 235V245M436 234V246M437 235V244M438 234V245M439 234V244M440 236V244M441 234V246M442 235V245M443 234V242M444 236V246M445 232V250M446 234V247M447 236V243M448 234V246M449 235V243M450 238V244M451 234V247M452 237V242M453 234V244M454 232V248M455 234V246M456 233V245" stroke="#b4b4b4"/><path d="M334 230h.01M334 251h.01M335 234h.01M335 248h.01M336 233h.01M336 246h.01M337 236h.01M337 243h.01M338 236h.01M338 243h.01M339 234h.01M339 247h.01M340 232h.01M340 246h.01M341 235h.01M341 248h.01M342 232h.01M342 248h.01M343 232h.01M343 248h.01M344 231h.01M344 248h.01M345 229h.01M345 250h.01M346 235h.01M346 245h.01M347 236h.01M347 243h.01M348 232h.01M348 249h.01M349 225h.01M349 253h.01M350 232h.01M350 247h.01M351 232h.01M351 245h.01M352 233h.01M352 248h.01M353 236h.01M353 245h.01M354 234h.01M354 246h.01M355 229h.01M355 251h.01M356 234h.01M356 246h.01M357 236h.01M357 243h.01M358 234h.01M358 247h.01M359 235h.01M359 245h.01M360 235h.01M360 244h.01M361 233h.01M361 247h.01M362 237h.01M362 243h.01M363 234h.01M363 246h.01M364 235h.01M364 243h.01M365 234h.01M365 243h.01M366 235h.01M366 245h.01M367 235h.01M367 245h.01M368 237h.01M368 243h.01M369 235h.01M369 244h.01M370 234h.01M370 247h.01M371 234h.01M371 244h.01M372 237h.01M372 245h.01M373 235h.01M373 247h.01M374 234h.01M374 246h.01M375 233h.01M375 245h.01M376 238h.01M376 244h.01M377 233h.01M377 246h.01M378 233h.01M378 246h.01M379 233h.01M379 247h.01M380 235h.01M380 246h.01M381 236h.01M381 245h.01M382 232h.01M382 248h.01M383 233h.01M383 245h.01M384 237h.01M384 244h.01M385 235h.01M385 245h.01M386 234h.01M386 247h.01M387 234h.01M387 245h.01M388 235h.01M388 245h.01M389 234h.01M389 246h.01M390 232h.01M390 249h.01M391 235h.01M391 245h.01M392 235h.01M392 247h.01M393 236h.01M393 243h.01M394 236h.01M394 243h.01M395 238h.01M395 244h.01M396 237h.01M396 242h.01M397 234h.01M397 245h.01M398 236h.01M398 242h.01M399 235h.01M399 245h.01M400 233h.01M400 249h.01M401 235h.01M401 245h.01M402 233h.01M402 245h.01M403 236h.01M403 244h.01M404 236h.01M404 245h.01M405 237h.01M405 244h.01M406 234h.01M406 247h.01M407 234h.01M407 244h.01M408 234h.01M408 245h.01M409 235h.01M409 249h.01M410 233h.01M410 246h.01M411 236h.01M411 243h.01M412 235h.01M412 244h.01M413 234h.01M413 245h.01M414 235h.01M414 244h.01M415 235h.01M415 245h.01M416 236h.01M416 245h.01M417 235h.01M417 245h.01M418 233h.01M418 249h.01M419 234h.01M419 244h.01M420 235h.01M420 246h.01M421 237h.01M421 244h.01M422 234h.01M422 247h.01M423 233h.01M423 247h.01M424 238h.01M424 242h.01M425 233h.01M425 247h.01M426 235h.01M426 246h.01M427 234h.01M427 248h.01M428 237h.01M428 245h.01M429 236h.01M429 245h.01M430 236h.01M430 242h.01M431 232h.01M431 247h.01M432 237h.01M432 241h.01M433 235h.01M433 245h.01M434 234h.01M434 246h.01M435 235h.01M435 245h.01M436 234h.01M436 246h.01M437 235h.01M437 244h.01M438 234h.01M438 245h.01M439 234h.01M439 244h.01M440 236h.01M440 244h.01M441 234h.01M441 246h.01M442 235h.01M442 245h.01M443 234h.01M443 242h.01M444 236h.01M444 246h.01M445 232h.01M445 250h.01M446 234h.01M446 247h.01M447 236h.01M447 243h.01M448 234h.01M448 246h.01M449 235h.01M449 243h.01M450 238h.01M450 244h.01M451 234h.01M451 247h.01M452 237h.01M452 242h.01M453 234h.01M453 244h.01M454 232h.01M454 248h.01M455 234h.01M455 246h.01M456 233h.01M456 245h.01" stroke="#b4b4b4" stroke-width="5" stroke-linecap="round"/>
<path d="M207 236V245M208 234V245M209 234V246M210 237V243M211 235V246M212 237V242M213 236V244M214 236V245M215 235V246M216 234V247M217 235V246M218 235V244M219 235V244M220 234V248M221 236V245M222 236V244M223 235V245M224 235V245M225 234V247M226 233V250M227 234V248M228 236V247M229 234V245M230 234V246M231 234V245M232 235V244M233 234V247M234 235V244M235 236V244M236 231V247M237 234V248M238 235V245M239 236V244M240 236V242M241 232V249M242 236V241M243 234V246M244 236V247M245 234V245M246 234V245M247 235V246M248 234V247M249 234V247M250 235V246M251 235V244M252 234V246M253 233V248M254 235V243M255 235V245M256 235V243M257 235V246M258 235V247M259 235V244M260 235V246M261 235V246M262 236V244M263 235V243M264 235V245M265 234V246M266 233V247M267 236V245M268 235V246M269 235V245M270 236V246M271 236V241M272 234V247M273 234V245M274 236V244M275 235V248M276 235V246M277 235V245M278 236V244M279 234V245M280 236V245M281 236V246M282 235V247M283 236V244" stroke="#dc00dc"/><path d="M207 236h.01M207 245h.01M208 234h.01M208 245h.01M209 234h.01M209 246h.01M210 237h.01M210 243h.01M211 235h.01M211 246h.01M212 237h.01M212 242h.01M213 236h.01M213 244h.01M214 236h.01M214 245h.01M215 235h.01M215 246h.01M216 234h.01M216 247h.01M217 235h.01M217 246h.01M218 235h.01M218 244h.01M219 235h.01M219 244h.01M220 234h.01M220 248h.01M221 236h.01M221 245h.01M222 236h.01M222 244h.01M223 235h.01M223 245h.01M224 235h.01M224 245h.01M225 234h.01M225 247h.01M226 233h.01M226 250h.01M227 234h.01M227 248h.01M228 236h.01M228 247h.01M229 234h.01M229 245h.01M230 234h.01M230 246h.01M231 234h.01M231 245h.01M232 235h.01M232 244h.01M233 234h.01M233 247h.01M234 235h.01M234 244h.01M235 236h.01M235 244h.01M236 231h.01M236 247h.01M237 234h.01M237 248h.01M238 235h.01M238 245h.01M239 236h.01M239 244h.01M240 236h.01M240 242h.01M241 232h.01M241 249h.01M242 236h.01M242 241h.01M243 234h.01M243 246h.01M244 236h.01M244 247h.01M245 234h.01M245 245h.01M246 234h.01M246 245h.01M247 235h.01M247 246h.01M248 234h.01M248 247h.01M249 234h.01M249 247h.01M250 235h.01M250 246h.01M251 235h.01M251 244h.01M252 234h.01M252 246h.01M253 233h.01M253 248h.01M254 235h.01M254 243h.01M255 235h.01M255 245h.01M256 235h.01M256 243h.01M257 235h.01M257 246h.01M258 235h.01M258 247h.01M259 235h.01M259 244h.01M260 235h.01M260 246h.01M261 235h.01M261 246h.01M262 236h.01M262 244h.01M263 235h.01M263 243h.01M264 235h.01M264 245h.01M265 234h.01M265 246h.01M266 233h.01M266 247h.01M267 236h.01M267 245h.01M268 235h.01M268 246h.01M269 235h.01M269 245h.01M270 236h.01M270 246h.01M271 236h.01M271 241h.01M272 234h.01M272 247h.01M273 234h.01M273 245h.01M274 236h.01M274 244h.01M275 235h.01M275 248h.01M276 235h.01M276 246h.01M277 235h.01M277 245h.01M278 236h.01M278 244h.01M279 234h.01M279 245h.01M280 236h.01M280 245h.01M281 236h.01M281 246h.01M282 235h.01M282 247h.01M283 236h.01M283 244h.01" stroke="#dc00dc" stroke-width="5" stroke-linecap="round"/>
<path d="M458 237V243M459 236V245M460 236V244M461 234V246M462 235V245M463 234V245M464 236V244M465 233V245M466 235V247M467 235V244M468 237V245M469 233V249M470 234V245M471 235V244M472 234V244M473 234V246M474 234V247M475 235V243M476 235V246M477 233V247M478 232V247M479 237V245M480 232V248M481 234V246M482 232V249M483 233V247M484 234V246M485 232V247M486 233V247M487 234V247M488 234V245M489 231V249M490 233V246M491 229V252M492 230V248M493 229V251M494 232V247M495 230V250M496 227V252M497 231V248M498 226V253M499 231V251M500 229V251M501 227V253M502 226V255M503 229V252M504 229V252M505 226V255M506 227V253M507 228V253M508 229V252M509 227V254M510 227V254M511 226V253M512 228V252M513 228V249M514 225V252M515 227V255" stroke="#dc00dc"/><path d="M458 237h.01M458 243h.01M459 236h.01M459 245h.01M460 236h.01M460 244h.01M461 234h.01M461 246h.01M462 235h.01M462 245h.01M463 234h.01M463 245h.01M464 236h.01M464 244h.01M465 233h.01M465 245h.01M466 235h.01M466 247h.01M467 235h.01M467 244h.01M468 237h.01M468 245h.01M469 233h.01M469 249h.01M470 234h.01M470 245h.01M471 235h.01M471 244h.01M472 234h.01M472 244h.01M473 234h.01M473 246h.01M474 234h.01M474 247h.01M475 235h.01M475 243h.01M476 235h.01M476 246h.01M477 233h.01M477 247h.01M478 232h.01M478 247h.01M479 237h.01M479 245h.01M480 232h.01M480 248h.01M481 234h.01M481 246h.01M482 232h.01M482 249h.01M483 233h.01M483 247h.01M484 234h.01M484 246h.01M485 232h.01M485 247h.01M486 233h.01M486 247h.01M487 234h.01M487 247h.01M488 234h.01M488 245h.01M489 231h.01M489 249h.01M490 233h.01M490 246h.01M491 229h.01M491 252h.01M492 230h.01M492 248h.01M493 229h.01M493 251h.01M494 232h.01M494 247h.01M495 230h.01M495 250h.01M496 227h.01M496 252h.01M497 231h.01M497 248h.01M498 226h.01M498 253h.01M499 231h.01M499 251h.01M500 229h.01M500 251h.01M501 227h.01M501 253h.01M502 226h.01M502 255h.01M503 229h.01M503 252h.01M504 229h.01M504 252h.01M505 226h.01M505 255h.01M506 227h.01M506 253h.01M507 228h.01M507 253h.01M508 229h.01M508 252h.01M509 227h.01M509 254h.01M510 227h.01M510 254h.01M511 226h.01M511 253h.01M512 228h.01M512 252h.01M513 228h.01M513 249h.01M514 225h.01M514 252h.01M515 227h.01M515 255h.01" stroke="#dc00dc" stroke-width="5" stroke-linecap="round"/>
<path d="M517 229V251M518 229V252M519 230V250M520 226V253" stroke="#dc0000"/><path d="M517 229h.01M517 251h.01M518 229h.01M518 252h.01M519 230h.01M519 250h.01M520 226h.01M520 253h.01" stroke="#dc0000" stroke-width="5" stroke-linecap="round"/>
<path d="M523 230V249M524 230V252M525 230V250M526 230V251M527 229V251M528 228V251M529 229V253M530 230V251M531 231V248M532 230V249M533 231V247M534 232V247M535 230V249M536 232V246M537 232V249M538 233V247M539 233V248M540 233V246M541 233V247M542 232V248M543 234V246M544 235V245M545 235V244M546 235V245M547 234V243M548 235V245M549 235V247M550 235V247M551 233V247M552 235V241M553 234V248M554 235V243M555 233V249M556 234V247M557 232V247M558 233V248M559 235V244M560 233V248M561 236V244M562 234V246M563 234V246M564 234V245M565 235V244M566 235V244M567 236V244M568 234V246M569 235V244M570 235V244M571 234V245M572 234V247M573 235V246M574 232V249M575 234V245M576 236V243M577 233V247M578 237V243M579 235V247M580 234V245M581 234V247M582 233V245M583 236V244M584 235V244M585 234V246M586 235V247M587 234V247M588 235V245M589 234V245M590 236V244M591 234V244M592 234V246M593 233V248M594 237V243M595 236V243M596 234V246M597 234V249M598 235V244M599 234V246M600 234V247M601 236V243M602 234V247M603 234V245M604 234V249M605 237V243M606 234V244M607 234V245M608 235V247M609 228V254M610 236V245M611 236V244M612 234V244M613 235V244M614 233V248M615 235V244M616 234V245M617 236V245M618 234V246M619 235V245M620 236V246M621 236V245M622 233V247M623 237V243M624 234V249M625 234V248M626 234V247M627 231V245M628 235V244M629 236V244M630 237V243M631 233V249M632 236V244M633 232V247M634 236V246M635 234V248M636 235V245M637 235V245M638 233V246M639 236V245M640 234V244M641 234V246M642 234V247M643 232V243M644 235V242M645 235V245M646 236V247M647 233V246M648 234V246M649 235V246M650 234V246M651 231V248M652 233V249M653 235V244M654 233V245M655 233V247M656 234V247M657 234V245M658 233V248M659 235V246M660 233V247M661 234V244M662 233V250M663 232V248M664 235V245M665 236V242M666 235V245M667 233V246M668 232V247M669 234V244M670 231V248M671 232V247M672 232V250M673 233V246M674 231V247M675 232V249M676 232V248M677 236V243M678 232V250M679 232V250M680 231V250M681 232V248M682 229V251M683 231V248M684 231V251M685 226V254M686 227V254M687 224V255M688 227V254" stroke="#00dcdc"/><path d="M523 230h.01M523 249h.01M524 230h.01M524 252h.01M525 230h.01M525 250h.01M526 230h.01M526 251h.01M527 229h.01M527 251h.01M528 228h.01M528 251h.01M529 229h.01M529 253h.01M530 230h.01M530 251h.01M531 231h.01M531 248h.01M532 230h.01M532 249h.01M533 231h.01M533 247h.01M534 232h.01M534 247h.01M535 230h.01M535 249h.01M536 232h.01M536 246h.01M537 232h.01M537 249h.01M538 233h.01M538 247h.01M539 233h.01M539 248h.01M540 233h.01M540 246h.01M541 233h.01M541 247h.01M542 232h.01M542 248h.01M543 234h.01M543 246h.01M544 235h.01M544 245h.01M545 235h.01M545 244h.01M546 235h.01M546 245h.01M547 234h.01M547 243h.01M548 235h.01M548 245h.01M549 235h.01M549 247h.01M550 235h.01M550 247h.01M551 233h.01M551 247h.01M552 235h.01M552 241h.01M553 234h.01M553 248h.01M554 235h.01M554 243h.01M555 233h.01M555 249h.01M556 234h.01M556 247h.01M557 232h.01M557 247h.01M558 233h.01M558 248h.01M559 235h.01M559 244h.01M560 233h.01M560 248h.01M561 236h.01M561 244h.01M562 234h.01M562 246h.01M563 234h.01M563 246h.01M564 234h.01M564 245h.01M565 235h.01M565 244h.01M566 235h.01M566 244h.01M567 236h.01M567 244h.01M568 234h.01M568 246h.01M569 235h.01M569 244h.01M570 235h.01M570 244h.01M571 234h.01M571 245h.01M572 234h.01M572 247h.01M573 235h.01M573 246h.01M574 232h.01M574 249h.01M575 234h.01M575 245h.01M576 236h.01M576 243h.01M577 233h.01M577 247h.01M578 237h.01M578 243h.01M579 235h.01M579 247h.01M580 234h.01M580 245h.01M581 234h.01M581 247h.01M582 233h.01M582 245h.01M583 236h.01M583 244h.01M584 235h.01M584 244h.01M585 234h.01M585 246h.01M586 235h.01M586 247h.01M587 234h.01M587 247h.01M588 235h.01M588 245h.01M589 234h.01M589 245h.01M590 236h.01M590 244h.01M591 234h.01M591 244h.01M592 234h.01M592 246h.01M593 233h.01M593 248h.01M594 237h.01M594 243h.01M595 236h.01M595 243h.01M596 234h.01M596 246h.01M597 234h.01M597 249h.01M598 235h.01M598 244h.01M599 234h.01M599 246h.01M600 234h.01M600 247h.01M601 236h.01M601 243h.01M602 234h.01M602 247h.01M603 234h.01M603 245h.01M604 234h.01M604 249h.01M605 237h.01M605 243h.01M606 234h.01M606 244h.01M607 234h.01M607 245h.01M608 235h.01M608 247h.01M609 228h.01M609 254h.01M610 236h.01M610 245h.01M611 236h.01M611 244h.01M612 234h.01M612 244h.01M613 235h.01M613 244h.01M614 233h.01M614 248h.01M615 235h.01M615 244h.01M616 234h.01M616 245h.01M617 236h.01M617 245h.01M618 234h.01M618 246h.01M619 235h.01M619 245h.01M620 236h.01M620 246h.01M621 236h.01M621 245h.01M622 233h.01M622 247h.01M623 237h.01M623 243h.01M624 234h.01M624 249h.01M625 234h.01M625 248h.01M626 234h.01M626 247h.01M627 231h.01M627 245h.01M628 235h.01M628 244h.01M629 236h.01M629 244h.01M630 237h.01M630 243h.01M631 233h.01M631 249h.01M632 236h.01M632 244h.01M633 232h.01M633 247h.01M634 236h.01M634 246h.01M635 234h.01M635 248h.01M636 235h.01M636 245h.01M637 235h.01M637 245h.01M638 233h.01M638 246h.01M639 236h.01M639 245h.01M640 234h.01M640 244h.01M641 234h.01M641 246h.01M642 234h.01M642 247h.01M643 232h.01M643 243h.01M644 235h.01M644 242h.01M645 235h.01M645 245h.01M646 236h.01M646 247h.01M647 233h.01M647 246h.01M648 234h.01M648 246h.01M649 235h.01M649 246h.01M650 234h.01M650 246h.01M651 231h.01M651 248h.01M652 233h.01M652 249h.01M653 235h.01M653 244h.01M654 233h.01M654 245h.01M655 233h.01M655 247h.01M656 234h.01M656 247h.01M657 234h.01M657 245h.01M658 233h.01M658 248h.01M659 235h.01M659 246h.01M660 233h.01M660 247h.01M661 234h.01M661 244h.01M662 233h.01M662 250h.01M663 232h.01M663 248h.01M664 235h.01M664 245h.01M665 236h.01M665 242h.01M666 235h.01M666 245h.01M667 233h.01M667 246h.01M668 232h.01M668 247h.01M669 234h.01M669 244h.01M670 231h.01M670 248h.01M671 232h.01M671 247h.01M672 232h.01M672 250h.01M673 233h.01M673 246h.01M674 231h.01M674 247h.01M675 232h.01M675 249h.01M676 232h.01M676 248h.01M677 236h.01M677 243h.01M678 232h.01M678 250h.01M679 232h.01M679 250h.01M680 231h.01M680 250h.01M681 232h.01M681 248h.01M682 229h.01M682 251h.01M683 231h.01M683 248h.01M684 231h.01M684 251h.01M685 226h.01M685 254h.01M686 227h.01M686 254h.01M687 224h.01M687 255h.01M688 227h.01M688 254h.01" stroke="#00dcdc" stroke-width="5" stroke-linecap="round"/>
</g>
<path d="M71.5 10V470M225.5 10V470M380.5 10V470M534.5 10V470M688.5 10V470M10 48.5H750M10 144.5H750M10 240.5H750M10 335.5H750M10 431.5H750" fill="none" stroke="#000" stroke-width="1" stroke-dasharray="4 2"/>
<path d="M148.5 10V470M302.5 10V470M457.5 10V470M611.5 10V470M10 96.5H750M10 192.5H750M10 287.5H750M10 383.5H750" fill="none" stroke="#000" stroke-width="1" stroke-dasharray="1 2"/>
</svg>
<div class="lb" style="left:50px;top:15px;width:43px"><span>00:00</span></div><div class="lb" style="left:50px;top:445px;width:43px"><span>00:00</span></div><div class="lb" style="left:204px;top:15px;width:43px"><span>06:00</span></div><div class="lb" style="left:204px;top:445px;width:43px"><span>06:00</span></div><div class="lb" style="left:359px;top:15px;width:43px"><span>12:00</span></div><div class="lb" style="left:359px;top:445px;width:43px"><span>12:00</span></div><div class="lb" style="left:513px;top:15px;width:43px"><span>18:00</span></div><div class="lb" style="left:513px;top:445px;width:43px"><span>18:00</span></div><div class="lb" style="left:667px;top:15px;width:43px"><span>00:00</span></div><div class="lb" style="left:667px;top:445px;width:43px"><span>00:00</span></div>
<div class="lb" style="left:15px;top:38px;width:44px;letter-spacing:0.2px;padding-right:1px;"><span>+10.0</span></div><div class="lb" style="left:702px;top:38px;width:44px;letter-spacing:0.2px;padding-right:1px;"><span>+10.0</span></div><div class="lb" style="left:15px;top:134px;width:37px;letter-spacing:0.2px;padding-right:1px;"><span>+5.0</span></div><div class="lb" style="left:709px;top:134px;width:37px;letter-spacing:0.2px;padding-right:1px;"><span>+5.0</span></div><div class="lb" style="left:15px;top:230px;width:37px;letter-spacing:0.2px;padding-right:1px;"><span>+0.0</span></div><div class="lb" style="left:709px;top:230px;width:37px;letter-spacing:0.2px;padding-right:1px;"><span>+0.0</span></div><div class="lb" style="left:15px;top:325px;width:33px;letter-spacing:0.2px;padding-right:1px;"><span>-5.0</span></div><div class="lb" style="left:713px;top:325px;width:33px;letter-spacing:0.2px;padding-right:1px;"><span>-5.0</span></div><div class="lb" style="left:15px;top:421px;width:40px;letter-spacing:0.2px;padding-right:1px;"><span>-10.0</span></div><div class="lb" style="left:706px;top:421px;width:40px;letter-spacing:0.2px;padding-right:1px;"><span>-10.0</span></div>
<div id="panel"></div>
<div class="t" style="left:817px;top:13px;letter-spacing:-0.07px">Filter/Legend</div>
<svg width="13" height="14" shape-rendering="crispEdges" style="left:780px;top:32px"><rect width="13" height="14" fill="#fff"/><path d="M0 1h12v1h-12zM0 1h1v12h-1z" fill="#8e8e8e"/><path d="M1 2h10v1h-10zM1 2h1v10h-1z" fill="#7a7a7a"/><path d="M11 2h1v11h-1zM1 12h11v1h-11z" fill="#e3e3e3"/><path d="M3 7h1v2h-1zM4 7h1v3h-1zM5 8h1v3h-1zM6 9h1v3h-1zM7 8h1v3h-1zM8 7h1v3h-1zM9 6h1v3h-1zM10 5h1v3h-1z" fill="#000"/></svg><div class="t" style="left:798px;top:33px;letter-spacing:0.2px">All</div>
<svg width="13" height="14" shape-rendering="crispEdges" style="left:860px;top:32px"><rect width="13" height="14" fill="#fff"/><path d="M0 1h12v1h-12zM0 1h1v12h-1z" fill="#8e8e8e"/><path d="M1 2h10v1h-10zM1 2h1v10h-1z" fill="#7a7a7a"/><path d="M11 2h1v11h-1zM1 12h11v1h-11z" fill="#e3e3e3"/></svg><div class="t" style="left:878px;top:33px">None</div>
<div id="list"></div>
<div class="sq" style="left:767px;top:57px"></div><svg width="8" height="8" shape-rendering="crispEdges" style="left:767px;top:57px"><circle cx="3.5" cy="3.5" r="3.5" fill="#000000"/></svg><svg width="13" height="14" shape-rendering="crispEdges" style="left:777px;top:54px"><rect width="13" height="14" fill="#fff"/><path d="M0 1h12v1h-12zM0 1h1v12h-1z" fill="#8e8e8e"/><path d="M1 2h10v1h-10zM1 2h1v10h-1z" fill="#7a7a7a"/><path d="M11 2h1v11h-1zM1 12h11v1h-11z" fill="#e3e3e3"/><path d="M3 7h1v2h-1zM4 7h1v3h-1zM5 8h1v3h-1zM6 9h1v3h-1zM7 8h1v3h-1zM8 7h1v3h-1zM9 6h1v3h-1zM10 5h1v3h-1z" fill="#000"/></svg><div class="t" style="left:795px;top:55px;letter-spacing:-0.5px">G01</div>
<div class="sq" style="left:852px;top:57px"></div><svg width="8" height="8" shape-rendering="crispEdges" style="left:852px;top:57px"><circle cx="3.5" cy="3.5" r="3.5" fill="#dc0000"/></svg><svg width="13" height="14" shape-rendering="crispEdges" style="left:862px;top:54px"><rect width="13" height="14" fill="#fff"/><path d="M0 1h12v1h-12zM0 1h1v12h-1z" fill="#8e8e8e"/><path d="M1 2h10v1h-10zM1 2h1v10h-1z" fill="#7a7a7a"/><path d="M11 2h1v11h-1zM1 12h11v1h-11z" fill="#e3e3e3"/><path d="M3 7h1v2h-1zM4 7h1v3h-1zM5 8h1v3h-1zM6 9h1v3h-1zM7 8h1v3h-1zM8 7h1v3h-1zM9 6h1v3h-1zM10 5h1v3h-1z" fill="#000"/></svg><div class="t" style="left:880px;top:55px;letter-spacing:-0.5px">G02</div>
<div class="sq" style="left:767px;top:77px"></div><svg width="8" height="8" shape-rendering="crispEdges" style="left:767px;top:77px"><circle cx="3.5" cy="3.5" r="3.5" fill="#00dc00"/></svg><svg width="13" height="14" shape-rendering="crispEdges" style="left:777px;top:74px"><rect width="13" height="14" fill="#fff"/><path d="M0 1h12v1h-12zM0 1h1v12h-1z" fill="#8e8e8e"/><path d="M1 2h10v1h-10zM1 2h1v10h-1z" fill="#7a7a7a"/><path d="M11 2h1v11h-1zM1 12h11v1h-11z" fill="#e3e3e3"/><path d="M3 7h1v2h-1zM4 7h1v3h-1zM5 8h1v3h-1zM6 9h1v3h-1zM7 8h1v3h-1zM8 7h1v3h-1zM9 6h1v3h-1zM10 5h1v3h-1z" fill="#000"/></svg><div class="t" style="left:795px;top:75px;letter-spacing:-0.5px">G03</div>
<div class="sq" style="left:852px;top:77px"></div><svg width="8" height="8" shape-rendering="crispEdges" style="left:852px;top:77px"><circle cx="3.5" cy="3.5" r="3.5" fill="#0000dc"/></svg><svg width="13" height="14" shape-rendering="crispEdges" style="left:862px;top:74px"><rect width="13" height="14" fill="#fff"/><path d="M0 1h12v1h-12zM0 1h1v12h-1z" fill="#8e8e8e"/><path d="M1 2h10v1h-10zM1 2h1v10h-1z" fill="#7a7a7a"/><path d="M11 2h1v11h-1zM1 12h11v1h-11z" fill="#e3e3e3"/><path d="M3 7h1v2h-1zM4 7h1v3h-1zM5 8h1v3h-1zM6 9h1v3h-1zM7 8h1v3h-1zM8 7h1v3h-1zM9 6h1v3h-1zM10 5h1v3h-1z" fill="#000"/></svg><div class="t" style="left:880px;top:75px;letter-spacing:-0.5px">G04</div>
<div class="sq" style="left:767px;top:97px"></div><svg width="8" height="8" shape-rendering="crispEdges" style="left:767px;top:97px"><circle cx="3.5" cy="3.5" r="3.5" fill="#dcdc00"/></svg><svg width="13" height="14" shape-rendering="crispEdges" style="left:777px;top:94px"><rect width="13" height="14" fill="#fff"/><path d="M0 1h12v1h-12zM0 1h1v12h-1z" fill="#8e8e8e"/><path d="M1 2h10v1h-10zM1 2h1v10h-1z" fill="#7a7a7a"/><path d="M11 2h1v11h-1zM1 12h11v1h-11z" fill="#e3e3e3"/><path d="M3 7h1v2h-1zM4 7h1v3h-1zM5 8h1v3h-1zM6 9h1v3h-1zM7 8h1v3h-1zM8 7h1v3h-1zM9 6h1v3h-1zM10 5h1v3h-1z" fill="#000"/></svg><div class="t" style="left:795px;top:95px;letter-spacing:-0.5px">G05</div>
<div class="sq" style="left:852px;top:97px"></div><svg width="8" height="8" shape-rendering="crispEdges" style="left:852px;top:97px"><circle cx="3.5" cy="3.5" r="3.5" fill="#00dcdc"/></svg><svg width="13" height="14" shape-rendering="crispEdges" style="left:862px;top:94px"><rect width="13" height="14" fill="#fff"/><path d="M0 1h12v1h-12zM0 1h1v12h-1z" fill="#8e8e8e"/><path d="M1 2h10v1h-10zM1 2h1v10h-1z" fill="#7a7a7a"/><path d="M11 2h1v11h-1zM1 12h11v1h-11z" fill="#e3e3e3"/><path d="M3 7h1v2h-1zM4 7h1v3h-1zM5 8h1v3h-1zM6 9h1v3h-1zM7 8h1v3h-1zM8 7h1v3h-1zM9 6h1v3h-1zM10 5h1v3h-1z" fill="#000"/></svg><div class="t" style="left:880px;top:95px;letter-spacing:-0.5px">G06</div>
<div class="sq" style="left:767px;top:117px"></div><svg width="8" height="8" shape-rendering="crispEdges" style="left:767px;top:117px"><circle cx="3.5" cy="3.5" r="3.5" fill="#dc00dc"/></svg><svg width="13" height="14" shape-rendering="crispEdges" style="left:777px;top:114px"><rect width="13" height="14" fill="#fff"/><path d="M0 1h12v1h-12zM0 1h1v12h-1z" fill="#8e8e8e"/><path d="M1 2h10v1h-10zM1 2h1v10h-1z" fill="#7a7a7a"/><path d="M11 2h1v11h-1zM1 12h11v1h-11z" fill="#e3e3e3"/><path d="M3 7h1v2h-1zM4 7h1v3h-1zM5 8h1v3h-1zM6 9h1v3h-1zM7 8h1v3h-1zM8 7h1v3h-1zM9 6h1v3h-1zM10 5h1v3h-1z" fill="#000"/></svg><div class="t" style="left:795px;top:115px;letter-spacing:-0.5px">G07</div>
<div class="sq" style="left:852px;top:117px"></div><svg width="8" height="8" shape-rendering="crispEdges" style="left:852px;top:117px"><circle cx="3.5" cy="3.5" r="3.5" fill="#b4b4b4"/></svg><svg width="13" height="14" shape-rendering="crispEdges" style="left:862px;top:114px"><rect width="13" height="14" fill="#fff"/><path d="M0 1h12v1h-12zM0 1h1v12h-1z" fill="#8e8e8e"/><path d="M1 2h10v1h-10zM1 2h1v10h-1z" fill="#7a7a7a"/><path d="M11 2h1v11h-1zM1 12h11v1h-11z" fill="#e3e3e3"/><path d="M3 7h1v2h-1zM4 7h1v3h-1zM5 8h1v3h-1zM6 9h1v3h-1zM7 8h1v3h-1zM8 7h1v3h-1zM9 6h1v3h-1zM10 5h1v3h-1z" fill="#000"/></svg><div class="t" style="left:880px;top:115px;letter-spacing:-0.5px">G08</div>
<div class="sq" style="left:767px;top:137px"></div><svg width="8" height="8" shape-rendering="crispEdges" style="left:767px;top:137px"><circle cx="3.5" cy="3.5" r="3.5" fill="#000000"/></svg><svg width="13" height="14" shape-rendering="crispEdges" style="left:777px;top:134px"><rect width="13" height="14" fill="#fff"/><path d="M0 1h12v1h-12zM0 1h1v12h-1z" fill="#8e8e8e"/><path d="M1 2h10v1h-10zM1 2h1v10h-1z" fill="#7a7a7a"/><path d="M11 2h1v11h-1zM1 12h11v1h-11z" fill="#e3e3e3"/><path d="M3 7h1v2h-1zM4 7h1v3h-1zM5 8h1v3h-1zM6 9h1v3h-1zM7 8h1v3h-1zM8 7h1v3h-1zM9 6h1v3h-1zM10 5h1v3h-1z" fill="#000"/></svg><div class="t" style="left:795px;top:135px;letter-spacing:-0.5px">G09</div>
<div class="sq" style="left:852px;top:137px"></div><svg width="8" height="8" shape-rendering="crispEdges" style="left:852px;top:137px"><circle cx="3.5" cy="3.5" r="3.5" fill="#dc0000"/></svg><svg width="13" height="14" shape-rendering="crispEdges" style="left:862px;top:134px"><rect width="13" height="14" fill="#fff"/><path d="M0 1h12v1h-12zM0 1h1v12h-1z" fill="#8e8e8e"/><path d="M1 2h10v1h-10zM1 2h1v10h-1z" fill="#7a7a7a"/><path d="M11 2h1v11h-1zM1 12h11v1h-11z" fill="#e3e3e3"/><path d="M3 7h1v2h-1zM4 7h1v3h-1zM5 8h1v3h-1zM6 9h1v3h-1zM7 8h1v3h-1zM8 7h1v3h-1zM9 6h1v3h-1zM10 5h1v3h-1z" fill="#000"/></svg><div class="t" style="left:880px;top:135px;letter-spacing:-0.5px">G10</div>
<div class="sq" style="left:767px;top:157px"></div><svg width="8" height="8" shape-rendering="crispEdges" style="left:767px;top:157px"><circle cx="3.5" cy="3.5" r="3.5" fill="#00dc00"/></svg><svg width="13" height="14" shape-rendering="crispEdges" style="left:777px;top:154px"><rect width="13" height="14" fill="#fff"/><path d="M0 1h12v1h-12zM0 1h1v12h-1z" fill="#8e8e8e"/><path d="M1 2h10v1h-10zM1 2h1v10h-1z" fill="#7a7a7a"/><path d="M11 2h1v11h-1zM1 12h11v1h-11z" fill="#e3e3e3"/><path d="M3 7h1v2h-1zM4 7h1v3h-1zM5 8h1v3h-1zM6 9h1v3h-1zM7 8h1v3h-1zM8 7h1v3h-1zM9 6h1v3h-1zM10 5h1v3h-1z" fill="#000"/></svg><div class="t" style="left:795px;top:155px;letter-spacing:-0.5px">G11</div>
<div class="sq" style="left:852px;top:157px"></div><svg width="8" height="8" shape-rendering="crispEdges" style="left:852px;top:157px"><circle cx="3.5" cy="3.5" r="3.5" fill="#0000dc"/></svg><svg width="13" height="14" shape-rendering="crispEdges" style="left:862px;top:154px"><rect width="13" height="14" fill="#fff"/><path d="M0 1h12v1h-12zM0 1h1v12h-1z" fill="#8e8e8e"/><path d="M1 2h10v1h-10zM1 2h1v10h-1z" fill="#7a7a7a"/><path d="M11 2h1v11h-1zM1 12h11v1h-11z" fill="#e3e3e3"/><path d="M3 7h1v2h-1zM4 7h1v3h-1zM5 8h1v3h-1zM6 9h1v3h-1zM7 8h1v3h-1zM8 7h1v3h-1zM9 6h1v3h-1zM10 5h1v3h-1z" fill="#000"/></svg><div class="t" style="left:880px;top:155px;letter-spacing:-0.5px">G12</div>
<div class="sq" style="left:767px;top:177px"></div><svg width="8" height="8" shape-rendering="crispEdges" style="left:767px;top:177px"><circle cx="3.5" cy="3.5" r="3.5" fill="#dcdc00"/></svg><svg width="13" height="14" shape-rendering="crispEdges" style="left:777px;top:174px"><rect width="13" height="14" fill="#fff"/><path d="M0 1h12v1h-12zM0 1h1v12h-1z" fill="#8e8e8e"/><path d="M1 2h10v1h-10zM1 2h1v10h-1z" fill="#7a7a7a"/><path d="M11 2h1v11h-1zM1 12h11v1h-11z" fill="#e3e3e3"/><path d="M3 7h1v2h-1zM4 7h1v3h-1zM5 8h1v3h-1zM6 9h1v3h-1zM7 8h1v3h-1zM8 7h1v3h-1zM9 6h1v3h-1zM10 5h1v3h-1z" fill="#000"/></svg><div class="t" style="left:795px;top:175px;letter-spacing:-0.5px">G13</div>
<div class="sq" style="left:852px;top:177px"></div><svg width="8" height="8" shape-rendering="crispEdges" style="left:852px;top:177px"><circle cx="3.5" cy="3.5" r="3.5" fill="#00dcdc"/></svg><svg width="13" height="14" shape-rendering="crispEdges" style="left:862px;top:174px"><rect width="13" height="14" fill="#fff"/><path d="M0 1h12v1h-12zM0 1h1v12h-1z" fill="#8e8e8e"/><path d="M1 2h10v1h-10zM1 2h1v10h-1z" fill="#7a7a7a"/><path d="M11 2h1v11h-1zM1 12h11v1h-11z" fill="#e3e3e3"/><path d="M3 7h1v2h-1zM4 7h1v3h-1zM5 8h1v3h-1zM6 9h1v3h-1zM7 8h1v3h-1zM8 7h1v3h-1zM9 6h1v3h-1zM10 5h1v3h-1z" fill="#000"/></svg><div class="t" style="left:880px;top:175px;letter-spacing:-0.5px">G14</div>
<div class="sq" style="left:767px;top:197px"></div><svg width="8" height="8" shape-rendering="crispEdges" style="left:767px;top:197px"><circle cx="3.5" cy="3.5" r="3.5" fill="#dc00dc"/></svg><svg width="13" height="14" shape-rendering="crispEdges" style="left:777px;top:194px"><rect width="13" height="14" fill="#fff"/><path d="M0 1h12v1h-12zM0 1h1v12h-1z" fill="#8e8e8e"/><path d="M1 2h10v1h-10zM1 2h1v10h-1z" fill="#7a7a7a"/><path d="M11 2h1v11h-1zM1 12h11v1h-11z" fill="#e3e3e3"/><path d="M3 7h1v2h-1zM4 7h1v3h-1zM5 8h1v3h-1zM6 9h1v3h-1zM7 8h1v3h-1zM8 7h1v3h-1zM9 6h1v3h-1zM10 5h1v3h-1z" fill="#000"/></svg><div class="t" style="left:795px;top:195px;letter-spacing:-0.5px">G15</div>
<div class="sq" style="left:852px;top:197px"></div><svg width="8" height="8" shape-rendering="crispEdges" style="left:852px;top:197px"><circle cx="3.5" cy="3.5" r="3.5" fill="#b4b4b4"/></svg><svg width="13" height="14" shape-rendering="crispEdges" style="left:862px;top:194px"><rect width="13" height="14" fill="#fff"/><path d="M0 1h12v1h-12zM0 1h1v12h-1z" fill="#8e8e8e"/><path d="M1 2h10v1h-10zM1 2h1v10h-1z" fill="#7a7a7a"/><path d="M11 2h1v11h-1zM1 12h11v1h-11z" fill="#e3e3e3"/><path d="M3 7h1v2h-1zM4 7h1v3h-1zM5 8h1v3h-1zM6 9h1v3h-1zM7 8h1v3h-1zM8 7h1v3h-1zM9 6h1v3h-1zM10 5h1v3h-1z" fill="#000"/></svg><div class="t" style="left:880px;top:195px;letter-spacing:-0.5px">G16</div>
<div class="sq" style="left:767px;top:217px"></div><svg width="8" height="8" shape-rendering="crispEdges" style="left:767px;top:217px"><circle cx="3.5" cy="3.5" r="3.5" fill="#000000"/></svg><svg width="13" height="14" shape-rendering="crispEdges" style="left:777px;top:214px"><rect width="13" height="14" fill="#fff"/><path d="M0 1h12v1h-12zM0 1h1v12h-1z" fill="#8e8e8e"/><path d="M1 2h10v1h-10zM1 2h1v10h-1z" fill="#7a7a7a"/><path d="M11 2h1v11h-1zM1 12h11v1h-11z" fill="#e3e3e3"/><path d="M3 7h1v2h-1zM4 7h1v3h-1zM5 8h1v3h-1zM6 9h1v3h-1zM7 8h1v3h-1zM8 7h1v3h-1zM9 6h1v3h-1zM10 5h1v3h-1z" fill="#000"/></svg><div class="t" style="left:795px;top:215px;letter-spacing:-0.5px">G17</div>
<div class="sq" style="left:852px;top:217px"></div><svg width="8" height="8" shape-rendering="crispEdges" style="left:852px;top:217px"><circle cx="3.5" cy="3.5" r="3.5" fill="#dc0000"/></svg><svg width="13" height="14" shape-rendering="crispEdges" style="left:862px;top:214px"><rect width="13" height="14" fill="#fff"/><path d="M0 1h12v1h-12zM0 1h1v12h-1z" fill="#8e8e8e"/><path d="M1 2h10v1h-10zM1 2h1v10h-1z" fill="#7a7a7a"/><path d="M11 2h1v11h-1zM1 12h11v1h-11z" fill="#e3e3e3"/><path d="M3 7h1v2h-1zM4 7h1v3h-1zM5 8h1v3h-1zM6 9h1v3h-1zM7 8h1v3h-1zM8 7h1v3h-1zM9 6h1v3h-1zM10 5h1v3h-1z" fill="#000"/></svg><div class="t" style="left:880px;top:215px;letter-spacing:-0.5px">G18</div>
<div class="sq" style="left:767px;top:237px"></div><svg width="8" height="8" shape-rendering="crispEdges" style="left:767px;top:237px"><circle cx="3.5" cy="3.5" r="3.5" fill="#00dc00"/></svg><svg width="13" height="14" shape-rendering="crispEdges" style="left:777px;top:234px"><rect width="13" height="14" fill="#fff"/><path d="M0 1h12v1h-12zM0 1h1v12h-1z" fill="#8e8e8e"/><path d="M1 2h10v1h-10zM1 2h1v10h-1z" fill="#7a7a7a"/><path d="M11 2h1v11h-1zM1 12h11v1h-11z" fill="#e3e3e3"/><path d="M3 7h1v2h-1zM4 7h1v3h-1zM5 8h1v3h-1zM6 9h1v3h-1zM7 8h1v3h-1zM8 7h1v3h-1zM9 6h1v3h-1zM10 5h1v3h-1z" fill="#000"/></svg><div class="t" style="left:795px;top:235px;letter-spacing:-0.5px">G19</div>
<div class="sq" style="left:852px;top:237px"></div><svg width="8" height="8" shape-rendering="crispEdges" style="left:852px;top:237px"><circle cx="3.5" cy="3.5" r="3.5" fill="#0000dc"/></svg><svg width="13" height="14" shape-rendering="crispEdges" style="left:862px;top:234px"><rect width="13" height="14" fill="#fff"/><path d="M0 1h12v1h-12zM0 1h1v12h-1z" fill="#8e8e8e"/><path d="M1 2h10v1h-10zM1 2h1v10h-1z" fill="#7a7a7a"/><path d="M11 2h1v11h-1zM1 12h11v1h-11z" fill="#e3e3e3"/><path d="M3 7h1v2h-1zM4 7h1v3h-1zM5 8h1v3h-1zM6 9h1v3h-1zM7 8h1v3h-1zM8 7h1v3h-1zM9 6h1v3h-1zM10 5h1v3h-1z" fill="#000"/></svg><div class="t" style="left:880px;top:235px;letter-spacing:-0.5px">G20</div>
<div class="sq" style="left:767px;top:257px"></div><svg width="8" height="8" shape-rendering="crispEdges" style="left:767px;top:257px"><circle cx="3.5" cy="3.5" r="3.5" fill="#dcdc00"/></svg><svg width="13" height="14" shape-rendering="crispEdges" style="left:777px;top:254px"><rect width="13" height="14" fill="#fff"/><path d="M0 1h12v1h-12zM0 1h1v12h-1z" fill="#8e8e8e"/><path d="M1 2h10v1h-10zM1 2h1v10h-1z" fill="#7a7a7a"/><path d="M11 2h1v11h-1zM1 12h11v1h-11z" fill="#e3e3e3"/><path d="M3 7h1v2h-1zM4 7h1v3h-1zM5 8h1v3h-1zM6 9h1v3h-1zM7 8h1v3h-1zM8 7h1v3h-1zM9 6h1v3h-1zM10 5h1v3h-1z" fill="#000"/></svg><div class="t" style="left:795px;top:255px;letter-spacing:-0.5px">G21</div>
<div class="sq" style="left:852px;top:257px"></div><svg width="8" height="8" shape-rendering="crispEdges" style="left:852px;top:257px"><circle cx="3.5" cy="3.5" r="3.5" fill="#00dcdc"/></svg><svg width="13" height="14" shape-rendering="crispEdges" style="left:862px;top:254px"><rect width="13" height="14" fill="#fff"/><path d="M0 1h12v1h-12zM0 1h1v12h-1z" fill="#8e8e8e"/><path d="M1 2h10v1h-10zM1 2h1v10h-1z" fill="#7a7a7a"/><path d="M11 2h1v11h-1zM1 12h11v1h-11z" fill="#e3e3e3"/><path d="M3 7h1v2h-1zM4 7h1v3h-1zM5 8h1v3h-1zM6 9h1v3h-1zM7 8h1v3h-1zM8 7h1v3h-1zM9 6h1v3h-1zM10 5h1v3h-1z" fill="#000"/></svg><div class="t" style="left:880px;top:255px;letter-spacing:-0.5px">G22</div>
<div class="sq" style="left:767px;top:277px"></div><svg width="8" height="8" shape-rendering="crispEdges" style="left:767px;top:277px"><circle cx="3.5" cy="3.5" r="3.5" fill="#dc00dc"/></svg><svg width="13" height="14" shape-rendering="crispEdges" style="left:777px;top:274px"><rect width="13" height="14" fill="#fff"/><path d="M0 1h12v1h-12zM0 1h1v12h-1z" fill="#8e8e8e"/><path d="M1 2h10v1h-10zM1 2h1v10h-1z" fill="#7a7a7a"/><path d="M11 2h1v11h-1zM1 12h11v1h-11z" fill="#e3e3e3"/><path d="M3 7h1v2h-1zM4 7h1v3h-1zM5 8h1v3h-1zM6 9h1v3h-1zM7 8h1v3h-1zM8 7h1v3h-1zM9 6h1v3h-1zM10 5h1v3h-1z" fill="#000"/></svg><div class="t" style="left:795px;top:275px;letter-spacing:-0.5px">G23</div>
<div class="sq" style="left:852px;top:277px"></div><svg width="8" height="8" shape-rendering="crispEdges" style="left:852px;top:277px"><circle cx="3.5" cy="3.5" r="3.5" fill="#b4b4b4"/></svg><svg width="13" height="14" shape-rendering="crispEdges" style="left:862px;top:274px"><rect width="13" height="14" fill="#fff"/><path d="M0 1h12v1h-12zM0 1h1v12h-1z" fill="#8e8e8e"/><path d="M1 2h10v1h-10zM1 2h1v10h-1z" fill="#7a7a7a"/><path d="M11 2h1v11h-1zM1 12h11v1h-11z" fill="#e3e3e3"/><path d="M3 7h1v2h-1zM4 7h1v3h-1zM5 8h1v3h-1zM6 9h1v3h-1zM7 8h1v3h-1zM8 7h1v3h-1zM9 6h1v3h-1zM10 5h1v3h-1z" fill="#000"/></svg><div class="t" style="left:880px;top:275px;letter-spacing:-0.5px">G24</div>
<div class="sq" style="left:767px;top:297px"></div><svg width="8" height="8" shape-rendering="crispEdges" style="left:767px;top:297px"><circle cx="3.5" cy="3.5" r="3.5" fill="#000000"/></svg><svg width="13" height="14" shape-rendering="crispEdges" style="left:777px;top:294px"><rect width="13" height="14" fill="#fff"/><path d="M0 1h12v1h-12zM0 1h1v12h-1z" fill="#8e8e8e"/><path d="M1 2h10v1h-10zM1 2h1v10h-1z" fill="#7a7a7a"/><path d="M11 2h1v11h-1zM1 12h11v1h-11z" fill="#e3e3e3"/><path d="M3 7h1v2h-1zM4 7h1v3h-1zM5 8h1v3h-1zM6 9h1v3h-1zM7 8h1v3h-1zM8 7h1v3h-1zM9 6h1v3h-1zM10 5h1v3h-1z" fill="#000"/></svg><div class="t" style="left:795px;top:295px;letter-spacing:-0.5px">G25</div>
<div class="sq" style="left:852px;top:297px"></div><svg width="8" height="8" shape-rendering="crispEdges" style="left:852px;top:297px"><circle cx="3.5" cy="3.5" r="3.5" fill="#dc0000"/></svg><svg width="13" height="14" shape-rendering="crispEdges" style="left:862px;top:294px"><rect width="13" height="14" fill="#fff"/><path d="M0 1h12v1h-12zM0 1h1v12h-1z" fill="#8e8e8e"/><path d="M1 2h10v1h-10zM1 2h1v10h-1z" fill="#7a7a7a"/><path d="M11 2h1v11h-1zM1 12h11v1h-11z" fill="#e3e3e3"/><path d="M3 7h1v2h-1zM4 7h1v3h-1zM5 8h1v3h-1zM6 9h1v3h-1zM7 8h1v3h-1zM8 7h1v3h-1zM9 6h1v3h-1zM10 5h1v3h-1z" fill="#000"/></svg><div class="t" style="left:880px;top:295px;letter-spacing:-0.5px">G26</div>
<div class="sq" style="left:767px;top:317px"></div><svg width="8" height="8" shape-rendering="crispEdges" style="left:767px;top:317px"><circle cx="3.5" cy="3.5" r="3.5" fill="#00dc00"/></svg><svg width="13" height="14" shape-rendering="crispEdges" style="left:777px;top:314px"><rect width="13" height="14" fill="#fff"/><path d="M0 1h12v1h-12zM0 1h1v12h-1z" fill="#8e8e8e"/><path d="M1 2h10v1h-10zM1 2h1v10h-1z" fill="#7a7a7a"/><path d="M11 2h1v11h-1zM1 12h11v1h-11z" fill="#e3e3e3"/><path d="M3 7h1v2h-1zM4 7h1v3h-1zM5 8h1v3h-1zM6 9h1v3h-1zM7 8h1v3h-1zM8 7h1v3h-1zM9 6h1v3h-1zM10 5h1v3h-1z" fill="#000"/></svg><div class="t" style="left:795px;top:315px;letter-spacing:-0.5px">G27</div>
<div class="sq" style="left:852px;top:317px"></div><svg width="8" height="8" shape-rendering="crispEdges" style="left:852px;top:317px"><circle cx="3.5" cy="3.5" r="3.5" fill="#0000dc"/></svg><svg width="13" height="14" shape-rendering="crispEdges" style="left:862px;top:314px"><rect width="13" height="14" fill="#fff"/><path d="M0 1h12v1h-12zM0 1h1v12h-1z" fill="#8e8e8e"/><path d="M1 2h10v1h-10zM1 2h1v10h-1z" fill="#7a7a7a"/><path d="M11 2h1v11h-1zM1 12h11v1h-11z" fill="#e3e3e3"/><path d="M3 7h1v2h-1zM4 7h1v3h-1zM5 8h1v3h-1zM6 9h1v3h-1zM7 8h1v3h-1zM8 7h1v3h-1zM9 6h1v3h-1zM10 5h1v3h-1z" fill="#000"/></svg><div class="t" style="left:880px;top:315px;letter-spacing:-0.5px">G28</div>
<div class="sq" style="left:767px;top:337px"></div><svg width="8" height="8" shape-rendering="crispEdges" style="left:767px;top:337px"><circle cx="3.5" cy="3.5" r="3.5" fill="#dcdc00"/></svg><svg width="13" height="14" shape-rendering="crispEdges" style="left:777px;top:334px"><rect width="13" height="14" fill="#fff"/><path d="M0 1h12v1h-12zM0 1h1v12h-1z" fill="#8e8e8e"/><path d="M1 2h10v1h-10zM1 2h1v10h-1z" fill="#7a7a7a"/><path d="M11 2h1v11h-1zM1 12h11v1h-11z" fill="#e3e3e3"/><path d="M3 7h1v2h-1zM4 7h1v3h-1zM5 8h1v3h-1zM6 9h1v3h-1zM7 8h1v3h-1zM8 7h1v3h-1zM9 6h1v3h-1zM10 5h1v3h-1z" fill="#000"/></svg><div class="t" style="left:795px;top:335px;letter-spacing:-0.5px">G29</div>
<div class="sq" style="left:852px;top:337px"></div><svg width="8" height="8" shape-rendering="crispEdges" style="left:852px;top:337px"><circle cx="3.5" cy="3.5" r="3.5" fill="#00dcdc"/></svg><svg width="13" height="14" shape-rendering="crispEdges" style="left:862px;top:334px"><rect width="13" height="14" fill="#fff"/><path d="M0 1h12v1h-12zM0 1h1v12h-1z" fill="#8e8e8e"/><path d="M1 2h10v1h-10zM1 2h1v10h-1z" fill="#7a7a7a"/><path d="M11 2h1v11h-1zM1 12h11v1h-11z" fill="#e3e3e3"/><path d="M3 7h1v2h-1zM4 7h1v3h-1zM5 8h1v3h-1zM6 9h1v3h-1zM7 8h1v3h-1zM8 7h1v3h-1zM9 6h1v3h-1zM10 5h1v3h-1z" fill="#000"/></svg><div class="t" style="left:880px;top:335px;letter-spacing:-0.5px">G30</div>
<div class="sq" style="left:767px;top:357px"></div><svg width="8" height="8" shape-rendering="crispEdges" style="left:767px;top:357px"><circle cx="3.5" cy="3.5" r="3.5" fill="#dc00dc"/></svg><svg width="13" height="14" shape-rendering="crispEdges" style="left:777px;top:354px"><rect width="13" height="14" fill="#fff"/><path d="M0 1h12v1h-12zM0 1h1v12h-1z" fill="#8e8e8e"/><path d="M1 2h10v1h-10zM1 2h1v10h-1z" fill="#7a7a7a"/><path d="M11 2h1v11h-1zM1 12h11v1h-11z" fill="#e3e3e3"/><path d="M3 7h1v2h-1zM4 7h1v3h-1zM5 8h1v3h-1zM6 9h1v3h-1zM7 8h1v3h-1zM8 7h1v3h-1zM9 6h1v3h-1zM10 5h1v3h-1z" fill="#000"/></svg><div class="t" style="left:795px;top:355px;letter-spacing:-0.5px">G31</div>
<div class="sq" style="left:852px;top:357px"></div><svg width="8" height="8" shape-rendering="crispEdges" style="left:852px;top:357px"><circle cx="3.5" cy="3.5" r="3.5" fill="#b4b4b4"/></svg><svg width="13" height="14" shape-rendering="crispEdges" style="left:862px;top:354px"><rect width="13" height="14" fill="#fff"/><path d="M0 1h12v1h-12zM0 1h1v12h-1z" fill="#8e8e8e"/><path d="M1 2h10v1h-10zM1 2h1v10h-1z" fill="#7a7a7a"/><path d="M11 2h1v11h-1zM1 12h11v1h-11z" fill="#e3e3e3"/><path d="M3 7h1v2h-1zM4 7h1v3h-1zM5 8h1v3h-1zM6 9h1v3h-1zM7 8h1v3h-1zM8 7h1v3h-1zM9 6h1v3h-1zM10 5h1v3h-1z" fill="#000"/></svg><div class="t" style="left:880px;top:355px;letter-spacing:-0.5px">G32</div>
<div class="trk" style="left:931px;top:52px;width:17px;height:349px"></div><div class="trk" style="left:762px;top:401px;width:169px;height:17px"></div>
<svg width="17" height="17" shape-rendering="crispEdges" style="left:931px;top:52px"><rect width="17" height="17" fill="#f0f0f0"/><path d="M0 0h16v1h-16zM0 0h1v16h-1z" fill="#e3e3e3"/><path d="M1 1h14v1h-14zM1 1h1v14h-1z" fill="#fff"/><path d="M15 1h1v15h-1zM1 15h15v1h-15z" fill="#a0a0a0"/><path d="M16 0h1v17h-1zM0 16h17v1h-17z" fill="#696969"/><path d="M7 6h1v1h-1zM6 7h3v1h-3zM5 8h5v1h-5zM4 9h7v1h-7z" fill="#a0a0a0"/></svg><svg width="17" height="17" shape-rendering="crispEdges" style="left:931px;top:384px"><rect width="17" height="17" fill="#f0f0f0"/><path d="M0 0h16v1h-16zM0 0h1v16h-1z" fill="#e3e3e3"/><path d="M1 1h14v1h-14zM1 1h1v14h-1z" fill="#fff"/><path d="M15 1h1v15h-1zM1 15h15v1h-15z" fill="#a0a0a0"/><path d="M16 0h1v17h-1zM0 16h17v1h-17z" fill="#696969"/><path d="M4 6h7v1h-7zM5 7h5v1h-5zM6 8h3v1h-3zM7 9h1v1h-1z" fill="#a0a0a0"/></svg><svg width="17" height="17" shape-rendering="crispEdges" style="left:762px;top:401px"><rect width="17" height="17" fill="#f0f0f0"/><path d="M0 0h16v1h-16zM0 0h1v16h-1z" fill="#e3e3e3"/><path d="M1 1h14v1h-14zM1 1h1v14h-1z" fill="#fff"/><path d="M15 1h1v15h-1zM1 15h15v1h-15z" fill="#a0a0a0"/><path d="M16 0h1v17h-1zM0 16h17v1h-17z" fill="#696969"/><path d="M6 7h1v1h-1zM7 6h1v3h-1zM8 5h1v5h-1zM9 4h1v7h-1z" fill="#a0a0a0"/></svg><svg width="17" height="17" shape-rendering="crispEdges" style="left:914px;top:401px"><rect width="17" height="17" fill="#f0f0f0"/><path d="M0 0h16v1h-16zM0 0h1v16h-1z" fill="#e3e3e3"/><path d="M1 1h14v1h-14zM1 1h1v14h-1z" fill="#fff"/><path d="M15 1h1v15h-1zM1 15h15v1h-15z" fill="#a0a0a0"/><path d="M16 0h1v17h-1zM0 16h17v1h-17z" fill="#696969"/><path d="M6 4h1v7h-1zM7 5h1v5h-1zM8 6h1v3h-1zM9 7h1v1h-1z" fill="#a0a0a0"/></svg>
<div id="logo"></div>
<svg width="960" height="480" viewBox="0 0 960 480" shape-rendering="crispEdges" style="pointer-events:none"><path d="M775.5 450.5L843.5 434.5H847.5L855.5 450.5L863.5 466.5L935.5 450.5Z" fill="#0000c8" stroke="#000" stroke-width="1"/><path d="M775 450.5H936" stroke="#000" stroke-width="1"/></svg>
<div class="t" style="left:861px;top:434px;letter-spacing:-0.7px">Nav</div><div class="t" style="left:812px;top:453.5px">Studio</div>
</body></html>
